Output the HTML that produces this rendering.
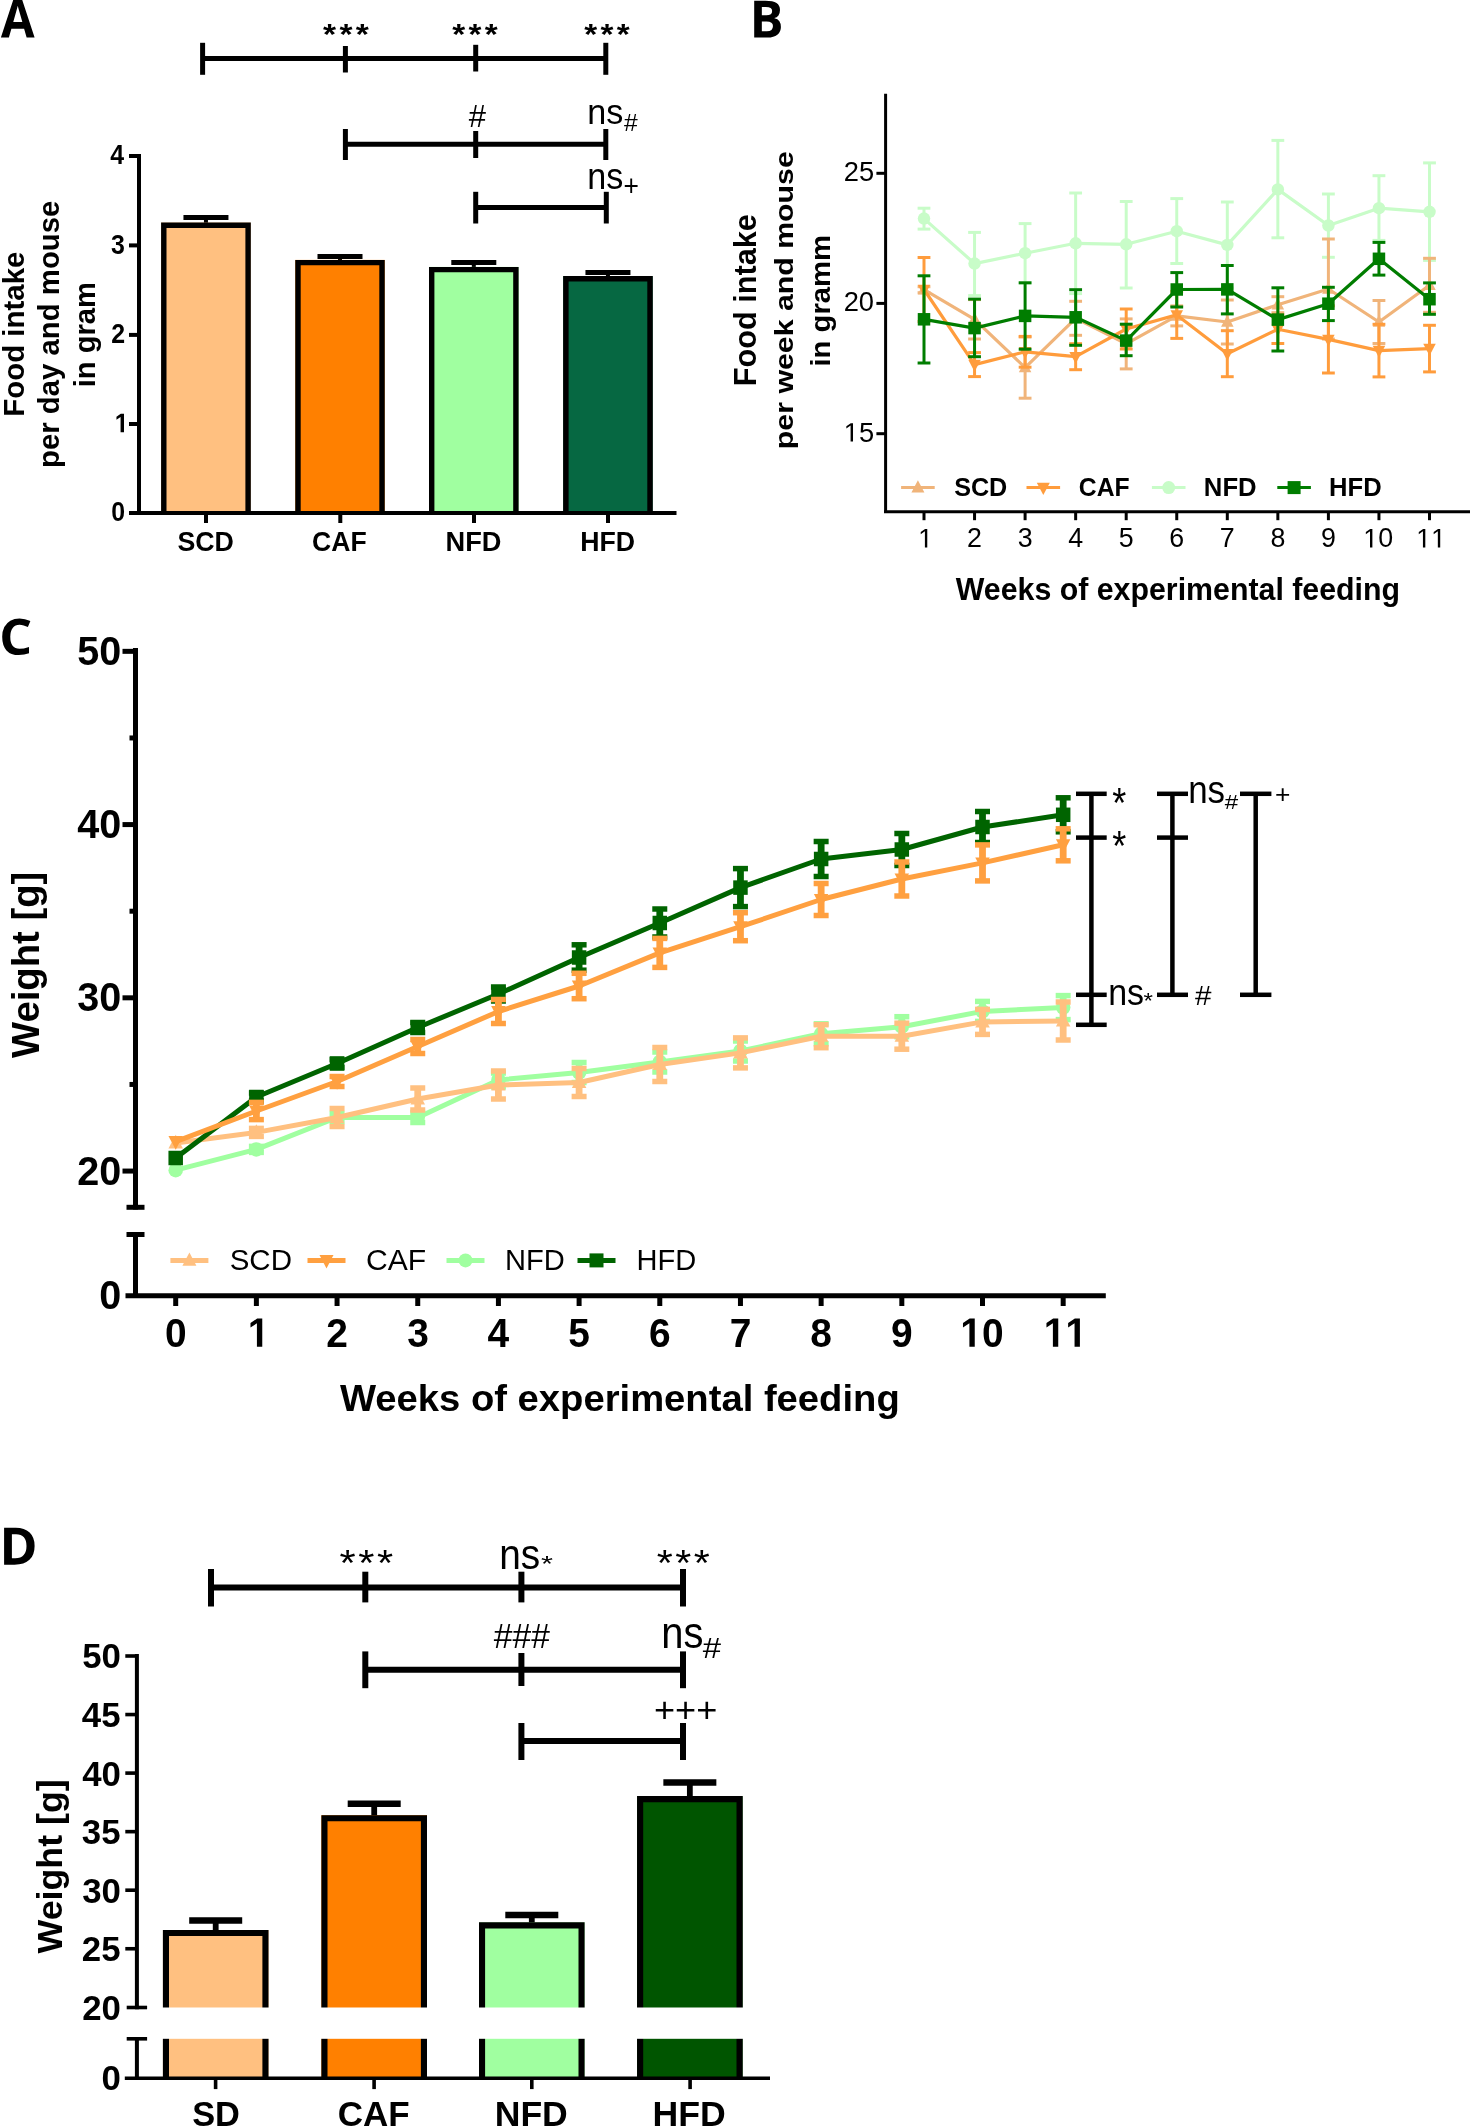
<!DOCTYPE html>
<html><head><meta charset="utf-8"><title>Figure</title><style>
html,body{margin:0;padding:0;background:#fff;overflow:hidden;}
svg{display:block;will-change:transform;}
text{font-family:"Liberation Sans",sans-serif;}
</style></head><body>
<svg width="1470" height="2128" viewBox="0 0 1470 2128">
<rect x="0" y="0" width="1470" height="2128" fill="#fff"/>
<path transform="translate(0.900,37.600) scale(0.023850,-0.025613)" d="M1079 0 973 348H440L334 0H0L516 1468H895L1413 0ZM899 608Q752 1081 733.5 1143.0Q715 1205 707 1241Q674 1113 518 608Z" fill="#000"/>
<line x1="205.95" y1="224.6" x2="205.95" y2="217.5" stroke="#000" stroke-width="4" stroke-linecap="butt"/>
<line x1="183.45" y1="217.5" x2="228.45" y2="217.5" stroke="#000" stroke-width="5" stroke-linecap="butt"/>
<line x1="340" y1="261.9" x2="340" y2="256.5" stroke="#000" stroke-width="4" stroke-linecap="butt"/>
<line x1="317.5" y1="256.5" x2="362.5" y2="256.5" stroke="#000" stroke-width="5" stroke-linecap="butt"/>
<line x1="473.8" y1="268.9" x2="473.8" y2="262.5" stroke="#000" stroke-width="4" stroke-linecap="butt"/>
<line x1="451.3" y1="262.5" x2="496.3" y2="262.5" stroke="#000" stroke-width="5" stroke-linecap="butt"/>
<line x1="607.95" y1="278.1" x2="607.95" y2="272.5" stroke="#000" stroke-width="4" stroke-linecap="butt"/>
<line x1="585.45" y1="272.5" x2="630.45" y2="272.5" stroke="#000" stroke-width="5" stroke-linecap="butt"/>
<rect x="161.1" y="222.6" width="89.7" height="290.4" fill="#FFC080"/>
<path d="M163.8,513 V225.3 H248.1 V513" fill="none" stroke="#000" stroke-width="5.4" stroke-linejoin="miter"/>
<rect x="295.3" y="259.9" width="89.4" height="253.1" fill="#FF8000"/>
<path d="M298,513 V262.6 H382 V513" fill="none" stroke="#000" stroke-width="5.4" stroke-linejoin="miter"/>
<rect x="429" y="266.9" width="89.6" height="246.1" fill="#A0FFA0"/>
<path d="M431.7,513 V269.6 H515.9 V513" fill="none" stroke="#000" stroke-width="5.4" stroke-linejoin="miter"/>
<rect x="563.2" y="276.1" width="89.5" height="236.9" fill="#066842"/>
<path d="M565.9,513 V278.8 H650 V513" fill="none" stroke="#000" stroke-width="5.4" stroke-linejoin="miter"/>
<line x1="139" y1="154" x2="139" y2="515" stroke="#000" stroke-width="4" stroke-linecap="butt"/>
<line x1="129" y1="513" x2="676.5" y2="513" stroke="#000" stroke-width="4" stroke-linecap="butt"/>
<line x1="129" y1="156" x2="139" y2="156" stroke="#000" stroke-width="4" stroke-linecap="butt"/>
<g transform="translate(110.29,164.3) scale(0.9300,1)" fill="#000"><text x="0" y="0" font-size="26.80" font-weight="bold">4</text></g>
<line x1="129" y1="245.4" x2="139" y2="245.4" stroke="#000" stroke-width="4" stroke-linecap="butt"/>
<g transform="translate(111.04,253.7) scale(0.9300,1)" fill="#000"><text x="0" y="0" font-size="26.80" font-weight="bold">3</text></g>
<line x1="129" y1="334.9" x2="139" y2="334.9" stroke="#000" stroke-width="4" stroke-linecap="butt"/>
<g transform="translate(111.16,343.2) scale(0.9300,1)" fill="#000"><text x="0" y="0" font-size="26.80" font-weight="bold">2</text></g>
<line x1="129" y1="424" x2="139" y2="424" stroke="#000" stroke-width="4" stroke-linecap="butt"/>
<g transform="translate(114.76,432.3) scale(0.9300,1)" fill="#000"><path transform="translate(0,0) scale(0.013086,-0.013086)" d="M478,0L478,1170L140,959L140,1180L493,1409L759,1409L759,0Z"/></g>
<line x1="129" y1="513" x2="139" y2="513" stroke="#000" stroke-width="4" stroke-linecap="butt"/>
<g transform="translate(111.16,521.3) scale(0.9300,1)" fill="#000"><text x="0" y="0" font-size="26.80" font-weight="bold">0</text></g>
<line x1="206" y1="513" x2="206" y2="523" stroke="#000" stroke-width="4" stroke-linecap="butt"/>
<line x1="340.3" y1="513" x2="340.3" y2="523" stroke="#000" stroke-width="4" stroke-linecap="butt"/>
<line x1="474" y1="513" x2="474" y2="523" stroke="#000" stroke-width="4" stroke-linecap="butt"/>
<line x1="608" y1="513" x2="608" y2="523" stroke="#000" stroke-width="4" stroke-linecap="butt"/>
<text transform="translate(177.4,551.03) scale(1.0019,1)" font-size="26.71" font-weight="bold" fill="#000">SCD</text>
<text transform="translate(312.04,551.03) scale(0.9945,1)" font-size="26.71" font-weight="bold" fill="#000">CAF</text>
<text transform="translate(445.56,551.3) scale(0.9912,1)" font-size="27.49" font-weight="bold" fill="#000">NFD</text>
<text transform="translate(580.2,551.3) scale(0.9706,1)" font-size="27.49" font-weight="bold" fill="#000">HFD</text>
<line x1="202.6" y1="58.6" x2="605.8" y2="58.6" stroke="#000" stroke-width="5" stroke-linecap="butt"/>
<line x1="202.6" y1="42.8" x2="202.6" y2="74.8" stroke="#000" stroke-width="5" stroke-linecap="butt"/>
<line x1="345.4" y1="46" x2="345.4" y2="72.5" stroke="#000" stroke-width="5" stroke-linecap="butt"/>
<line x1="475.7" y1="44.8" x2="475.7" y2="71.5" stroke="#000" stroke-width="5" stroke-linecap="butt"/>
<line x1="605.8" y1="42.8" x2="605.8" y2="74.8" stroke="#000" stroke-width="5" stroke-linecap="butt"/>
<line x1="345.4" y1="144.2" x2="605.8" y2="144.2" stroke="#000" stroke-width="5" stroke-linecap="butt"/>
<line x1="345.4" y1="129" x2="345.4" y2="160" stroke="#000" stroke-width="5" stroke-linecap="butt"/>
<line x1="475.7" y1="131" x2="475.7" y2="158" stroke="#000" stroke-width="5" stroke-linecap="butt"/>
<line x1="605.8" y1="129" x2="605.8" y2="160" stroke="#000" stroke-width="5" stroke-linecap="butt"/>
<line x1="475.7" y1="207.6" x2="606.3" y2="207.6" stroke="#000" stroke-width="5" stroke-linecap="butt"/>
<line x1="475.7" y1="191.8" x2="475.7" y2="223.5" stroke="#000" stroke-width="5" stroke-linecap="butt"/>
<line x1="606.3" y1="191.8" x2="606.3" y2="223.5" stroke="#000" stroke-width="5" stroke-linecap="butt"/>
<text transform="translate(323.02,43.86) scale(1.1054,1)" font-size="30.34" font-weight="bold" fill="#000">*</text>
<text transform="translate(339.41,43.86) scale(1.1054,1)" font-size="30.34" font-weight="bold" fill="#000">*</text>
<text transform="translate(355.81,43.86) scale(1.1054,1)" font-size="30.34" font-weight="bold" fill="#000">*</text>
<text transform="translate(452.22,43.86) scale(1.0957,1)" font-size="30.34" font-weight="bold" fill="#000">*</text>
<text transform="translate(468.47,43.86) scale(1.0957,1)" font-size="30.34" font-weight="bold" fill="#000">*</text>
<text transform="translate(484.72,43.86) scale(1.0957,1)" font-size="30.34" font-weight="bold" fill="#000">*</text>
<text transform="translate(584.32,43.86) scale(1.0957,1)" font-size="30.34" font-weight="bold" fill="#000">*</text>
<text transform="translate(600.57,43.86) scale(1.0957,1)" font-size="30.34" font-weight="bold" fill="#000">*</text>
<text transform="translate(616.82,43.86) scale(1.0957,1)" font-size="30.34" font-weight="bold" fill="#000">*</text>
<text transform="translate(468.84,126.6) scale(0.9624,1)" font-size="32.26" font-weight="normal" fill="#000">#</text>
<text transform="translate(587.2,124.25) scale(0.9884,1)" font-size="34.52" font-weight="normal" fill="#000">ns</text>
<text transform="translate(623.88,131) scale(1.0237,1)" font-size="24.09" font-weight="normal" fill="#000">#</text>
<text transform="translate(587.2,188.63) scale(0.9341,1)" font-size="36.53" font-weight="normal" fill="#000">ns</text>
<text transform="translate(623.38,195.5) scale(0.9237,1)" font-size="28.57" font-weight="normal" fill="#000">+</text>
<text transform="translate(23.7,416.79) rotate(-90) scale(0.9790,1)" font-size="30.07" font-weight="bold" fill="#000">Food intake</text>
<text transform="translate(59.21,467.91) rotate(-90) scale(1.0171,1)" font-size="28.85" font-weight="bold" fill="#000">per day and mouse</text>
<text transform="translate(95.08,387.24) rotate(-90) scale(0.9791,1)" font-size="29.76" font-weight="bold" fill="#000">in gram</text>
<path transform="translate(749.668,37.600) scale(0.024631,-0.025239)" d="M184 1462H639Q950 1462 1090.5 1373.5Q1231 1285 1231 1092Q1231 961 1169.5 877.0Q1108 793 1006 776V766Q1145 735 1206.5 650.0Q1268 565 1268 424Q1268 224 1123.5 112.0Q979 0 731 0H184ZM494 883H674Q800 883 856.5 922.0Q913 961 913 1051Q913 1135 851.5 1171.5Q790 1208 657 1208H494ZM494 637V256H696Q824 256 885.0 305.0Q946 354 946 455Q946 637 686 637Z" fill="#000"/>
<defs><clipPath id="clipB"><rect x="886" y="90" width="550" height="420"/></clipPath></defs>
<g clip-path="url(#clipB)">
<line x1="924" y1="208.2" x2="924" y2="229.1" stroke="#C8FCC8" stroke-width="3" stroke-linecap="butt"/>
<line x1="917.6" y1="208.2" x2="930.4" y2="208.2" stroke="#C8FCC8" stroke-width="3" stroke-linecap="butt"/>
<line x1="917.6" y1="229.1" x2="930.4" y2="229.1" stroke="#C8FCC8" stroke-width="3" stroke-linecap="butt"/>
<line x1="974.55" y1="232.4" x2="974.55" y2="295.6" stroke="#C8FCC8" stroke-width="3" stroke-linecap="butt"/>
<line x1="968.15" y1="232.4" x2="980.95" y2="232.4" stroke="#C8FCC8" stroke-width="3" stroke-linecap="butt"/>
<line x1="968.15" y1="295.6" x2="980.95" y2="295.6" stroke="#C8FCC8" stroke-width="3" stroke-linecap="butt"/>
<line x1="1025.1" y1="223.6" x2="1025.1" y2="283" stroke="#C8FCC8" stroke-width="3" stroke-linecap="butt"/>
<line x1="1018.7" y1="223.6" x2="1031.5" y2="223.6" stroke="#C8FCC8" stroke-width="3" stroke-linecap="butt"/>
<line x1="1018.7" y1="283" x2="1031.5" y2="283" stroke="#C8FCC8" stroke-width="3" stroke-linecap="butt"/>
<line x1="1075.65" y1="193" x2="1075.65" y2="293.6" stroke="#C8FCC8" stroke-width="3" stroke-linecap="butt"/>
<line x1="1069.25" y1="193" x2="1082.05" y2="193" stroke="#C8FCC8" stroke-width="3" stroke-linecap="butt"/>
<line x1="1069.25" y1="293.6" x2="1082.05" y2="293.6" stroke="#C8FCC8" stroke-width="3" stroke-linecap="butt"/>
<line x1="1126.2" y1="201.5" x2="1126.2" y2="288" stroke="#C8FCC8" stroke-width="3" stroke-linecap="butt"/>
<line x1="1119.8" y1="201.5" x2="1132.6" y2="201.5" stroke="#C8FCC8" stroke-width="3" stroke-linecap="butt"/>
<line x1="1119.8" y1="288" x2="1132.6" y2="288" stroke="#C8FCC8" stroke-width="3" stroke-linecap="butt"/>
<line x1="1176.75" y1="198.6" x2="1176.75" y2="263.5" stroke="#C8FCC8" stroke-width="3" stroke-linecap="butt"/>
<line x1="1170.35" y1="198.6" x2="1183.15" y2="198.6" stroke="#C8FCC8" stroke-width="3" stroke-linecap="butt"/>
<line x1="1170.35" y1="263.5" x2="1183.15" y2="263.5" stroke="#C8FCC8" stroke-width="3" stroke-linecap="butt"/>
<line x1="1227.3" y1="202" x2="1227.3" y2="288" stroke="#C8FCC8" stroke-width="3" stroke-linecap="butt"/>
<line x1="1220.9" y1="202" x2="1233.7" y2="202" stroke="#C8FCC8" stroke-width="3" stroke-linecap="butt"/>
<line x1="1220.9" y1="288" x2="1233.7" y2="288" stroke="#C8FCC8" stroke-width="3" stroke-linecap="butt"/>
<line x1="1277.85" y1="140.4" x2="1277.85" y2="237.8" stroke="#C8FCC8" stroke-width="3" stroke-linecap="butt"/>
<line x1="1271.45" y1="140.4" x2="1284.25" y2="140.4" stroke="#C8FCC8" stroke-width="3" stroke-linecap="butt"/>
<line x1="1271.45" y1="237.8" x2="1284.25" y2="237.8" stroke="#C8FCC8" stroke-width="3" stroke-linecap="butt"/>
<line x1="1328.4" y1="194" x2="1328.4" y2="257.3" stroke="#C8FCC8" stroke-width="3" stroke-linecap="butt"/>
<line x1="1322" y1="194" x2="1334.8" y2="194" stroke="#C8FCC8" stroke-width="3" stroke-linecap="butt"/>
<line x1="1322" y1="257.3" x2="1334.8" y2="257.3" stroke="#C8FCC8" stroke-width="3" stroke-linecap="butt"/>
<line x1="1378.95" y1="175.7" x2="1378.95" y2="240.4" stroke="#C8FCC8" stroke-width="3" stroke-linecap="butt"/>
<line x1="1372.55" y1="175.7" x2="1385.35" y2="175.7" stroke="#C8FCC8" stroke-width="3" stroke-linecap="butt"/>
<line x1="1372.55" y1="240.4" x2="1385.35" y2="240.4" stroke="#C8FCC8" stroke-width="3" stroke-linecap="butt"/>
<line x1="1429.5" y1="162.9" x2="1429.5" y2="260.4" stroke="#C8FCC8" stroke-width="3" stroke-linecap="butt"/>
<line x1="1423.1" y1="162.9" x2="1435.9" y2="162.9" stroke="#C8FCC8" stroke-width="3" stroke-linecap="butt"/>
<line x1="1423.1" y1="260.4" x2="1435.9" y2="260.4" stroke="#C8FCC8" stroke-width="3" stroke-linecap="butt"/>
<polyline points="924,218.6 974.55,263.6 1025.1,253.2 1075.65,243.3 1126.2,244.3 1176.75,231.2 1227.3,244.9 1277.85,189.4 1328.4,225.5 1378.95,208.2 1429.5,211.8" fill="none" stroke="#C8FCC8" stroke-width="3.2" stroke-linejoin="round"/>
<circle cx="924" cy="218.6" r="6.25" fill="#C8FCC8"/>
<circle cx="974.55" cy="263.6" r="6.25" fill="#C8FCC8"/>
<circle cx="1025.1" cy="253.2" r="6.25" fill="#C8FCC8"/>
<circle cx="1075.65" cy="243.3" r="6.25" fill="#C8FCC8"/>
<circle cx="1126.2" cy="244.3" r="6.25" fill="#C8FCC8"/>
<circle cx="1176.75" cy="231.2" r="6.25" fill="#C8FCC8"/>
<circle cx="1227.3" cy="244.9" r="6.25" fill="#C8FCC8"/>
<circle cx="1277.85" cy="189.4" r="6.25" fill="#C8FCC8"/>
<circle cx="1328.4" cy="225.5" r="6.25" fill="#C8FCC8"/>
<circle cx="1378.95" cy="208.2" r="6.25" fill="#C8FCC8"/>
<circle cx="1429.5" cy="211.8" r="6.25" fill="#C8FCC8"/>
<line x1="924" y1="286.7" x2="924" y2="292.7" stroke="#F0B47A" stroke-width="3" stroke-linecap="butt"/>
<line x1="917.6" y1="286.7" x2="930.4" y2="286.7" stroke="#F0B47A" stroke-width="3" stroke-linecap="butt"/>
<line x1="917.6" y1="292.7" x2="930.4" y2="292.7" stroke="#F0B47A" stroke-width="3" stroke-linecap="butt"/>
<line x1="974.55" y1="299.6" x2="974.55" y2="339" stroke="#F0B47A" stroke-width="3" stroke-linecap="butt"/>
<line x1="968.15" y1="299.6" x2="980.95" y2="299.6" stroke="#F0B47A" stroke-width="3" stroke-linecap="butt"/>
<line x1="968.15" y1="339" x2="980.95" y2="339" stroke="#F0B47A" stroke-width="3" stroke-linecap="butt"/>
<line x1="1025.1" y1="337" x2="1025.1" y2="398.2" stroke="#F0B47A" stroke-width="3" stroke-linecap="butt"/>
<line x1="1018.7" y1="337" x2="1031.5" y2="337" stroke="#F0B47A" stroke-width="3" stroke-linecap="butt"/>
<line x1="1018.7" y1="398.2" x2="1031.5" y2="398.2" stroke="#F0B47A" stroke-width="3" stroke-linecap="butt"/>
<line x1="1075.65" y1="301.3" x2="1075.65" y2="335.3" stroke="#F0B47A" stroke-width="3" stroke-linecap="butt"/>
<line x1="1069.25" y1="301.3" x2="1082.05" y2="301.3" stroke="#F0B47A" stroke-width="3" stroke-linecap="butt"/>
<line x1="1069.25" y1="335.3" x2="1082.05" y2="335.3" stroke="#F0B47A" stroke-width="3" stroke-linecap="butt"/>
<line x1="1126.2" y1="318.9" x2="1126.2" y2="368.9" stroke="#F0B47A" stroke-width="3" stroke-linecap="butt"/>
<line x1="1119.8" y1="318.9" x2="1132.6" y2="318.9" stroke="#F0B47A" stroke-width="3" stroke-linecap="butt"/>
<line x1="1119.8" y1="368.9" x2="1132.6" y2="368.9" stroke="#F0B47A" stroke-width="3" stroke-linecap="butt"/>
<line x1="1176.75" y1="305.9" x2="1176.75" y2="325.9" stroke="#F0B47A" stroke-width="3" stroke-linecap="butt"/>
<line x1="1170.35" y1="305.9" x2="1183.15" y2="305.9" stroke="#F0B47A" stroke-width="3" stroke-linecap="butt"/>
<line x1="1170.35" y1="325.9" x2="1183.15" y2="325.9" stroke="#F0B47A" stroke-width="3" stroke-linecap="butt"/>
<line x1="1227.3" y1="300" x2="1227.3" y2="344" stroke="#F0B47A" stroke-width="3" stroke-linecap="butt"/>
<line x1="1220.9" y1="300" x2="1233.7" y2="300" stroke="#F0B47A" stroke-width="3" stroke-linecap="butt"/>
<line x1="1220.9" y1="344" x2="1233.7" y2="344" stroke="#F0B47A" stroke-width="3" stroke-linecap="butt"/>
<line x1="1277.85" y1="296.7" x2="1277.85" y2="312.7" stroke="#F0B47A" stroke-width="3" stroke-linecap="butt"/>
<line x1="1271.45" y1="296.7" x2="1284.25" y2="296.7" stroke="#F0B47A" stroke-width="3" stroke-linecap="butt"/>
<line x1="1271.45" y1="312.7" x2="1284.25" y2="312.7" stroke="#F0B47A" stroke-width="3" stroke-linecap="butt"/>
<line x1="1328.4" y1="239" x2="1328.4" y2="339" stroke="#F0B47A" stroke-width="3" stroke-linecap="butt"/>
<line x1="1322" y1="239" x2="1334.8" y2="239" stroke="#F0B47A" stroke-width="3" stroke-linecap="butt"/>
<line x1="1322" y1="339" x2="1334.8" y2="339" stroke="#F0B47A" stroke-width="3" stroke-linecap="butt"/>
<line x1="1378.95" y1="300.5" x2="1378.95" y2="343.5" stroke="#F0B47A" stroke-width="3" stroke-linecap="butt"/>
<line x1="1372.55" y1="300.5" x2="1385.35" y2="300.5" stroke="#F0B47A" stroke-width="3" stroke-linecap="butt"/>
<line x1="1372.55" y1="343.5" x2="1385.35" y2="343.5" stroke="#F0B47A" stroke-width="3" stroke-linecap="butt"/>
<line x1="1429.5" y1="258.3" x2="1429.5" y2="312.3" stroke="#F0B47A" stroke-width="3" stroke-linecap="butt"/>
<line x1="1423.1" y1="258.3" x2="1435.9" y2="258.3" stroke="#F0B47A" stroke-width="3" stroke-linecap="butt"/>
<line x1="1423.1" y1="312.3" x2="1435.9" y2="312.3" stroke="#F0B47A" stroke-width="3" stroke-linecap="butt"/>
<polyline points="924,289.7 974.55,319.3 1025.1,367.6 1075.65,318.3 1126.2,343.9 1176.75,315.9 1227.3,322 1277.85,304.7 1328.4,289 1378.95,322 1429.5,285.3" fill="none" stroke="#F0B47A" stroke-width="3.2" stroke-linejoin="round"/>
<polygon points="924,282.57 930.25,294.45 917.75,294.45" fill="#F0B47A"/>
<polygon points="974.55,312.18 980.8,324.05 968.3,324.05" fill="#F0B47A"/>
<polygon points="1025.1,360.48 1031.35,372.35 1018.85,372.35" fill="#F0B47A"/>
<polygon points="1075.65,311.18 1081.9,323.05 1069.4,323.05" fill="#F0B47A"/>
<polygon points="1126.2,336.77 1132.45,348.65 1119.95,348.65" fill="#F0B47A"/>
<polygon points="1176.75,308.77 1183,320.65 1170.5,320.65" fill="#F0B47A"/>
<polygon points="1227.3,314.88 1233.55,326.75 1221.05,326.75" fill="#F0B47A"/>
<polygon points="1277.85,297.57 1284.1,309.45 1271.6,309.45" fill="#F0B47A"/>
<polygon points="1328.4,281.88 1334.65,293.75 1322.15,293.75" fill="#F0B47A"/>
<polygon points="1378.95,314.88 1385.2,326.75 1372.7,326.75" fill="#F0B47A"/>
<polygon points="1429.5,278.18 1435.75,290.05 1423.25,290.05" fill="#F0B47A"/>
<line x1="924" y1="257.5" x2="924" y2="321.5" stroke="#FF9C3C" stroke-width="3" stroke-linecap="butt"/>
<line x1="917.6" y1="257.5" x2="930.4" y2="257.5" stroke="#FF9C3C" stroke-width="3" stroke-linecap="butt"/>
<line x1="917.6" y1="321.5" x2="930.4" y2="321.5" stroke="#FF9C3C" stroke-width="3" stroke-linecap="butt"/>
<line x1="974.55" y1="352.6" x2="974.55" y2="376.6" stroke="#FF9C3C" stroke-width="3" stroke-linecap="butt"/>
<line x1="968.15" y1="352.6" x2="980.95" y2="352.6" stroke="#FF9C3C" stroke-width="3" stroke-linecap="butt"/>
<line x1="968.15" y1="376.6" x2="980.95" y2="376.6" stroke="#FF9C3C" stroke-width="3" stroke-linecap="butt"/>
<line x1="1025.1" y1="336.4" x2="1025.1" y2="367.2" stroke="#FF9C3C" stroke-width="3" stroke-linecap="butt"/>
<line x1="1018.7" y1="336.4" x2="1031.5" y2="336.4" stroke="#FF9C3C" stroke-width="3" stroke-linecap="butt"/>
<line x1="1018.7" y1="367.2" x2="1031.5" y2="367.2" stroke="#FF9C3C" stroke-width="3" stroke-linecap="butt"/>
<line x1="1075.65" y1="343.7" x2="1075.65" y2="369.7" stroke="#FF9C3C" stroke-width="3" stroke-linecap="butt"/>
<line x1="1069.25" y1="343.7" x2="1082.05" y2="343.7" stroke="#FF9C3C" stroke-width="3" stroke-linecap="butt"/>
<line x1="1069.25" y1="369.7" x2="1082.05" y2="369.7" stroke="#FF9C3C" stroke-width="3" stroke-linecap="butt"/>
<line x1="1126.2" y1="309" x2="1126.2" y2="349" stroke="#FF9C3C" stroke-width="3" stroke-linecap="butt"/>
<line x1="1119.8" y1="309" x2="1132.6" y2="309" stroke="#FF9C3C" stroke-width="3" stroke-linecap="butt"/>
<line x1="1119.8" y1="349" x2="1132.6" y2="349" stroke="#FF9C3C" stroke-width="3" stroke-linecap="butt"/>
<line x1="1176.75" y1="291.4" x2="1176.75" y2="338.4" stroke="#FF9C3C" stroke-width="3" stroke-linecap="butt"/>
<line x1="1170.35" y1="291.4" x2="1183.15" y2="291.4" stroke="#FF9C3C" stroke-width="3" stroke-linecap="butt"/>
<line x1="1170.35" y1="338.4" x2="1183.15" y2="338.4" stroke="#FF9C3C" stroke-width="3" stroke-linecap="butt"/>
<line x1="1227.3" y1="330.7" x2="1227.3" y2="376.7" stroke="#FF9C3C" stroke-width="3" stroke-linecap="butt"/>
<line x1="1220.9" y1="330.7" x2="1233.7" y2="330.7" stroke="#FF9C3C" stroke-width="3" stroke-linecap="butt"/>
<line x1="1220.9" y1="376.7" x2="1233.7" y2="376.7" stroke="#FF9C3C" stroke-width="3" stroke-linecap="butt"/>
<line x1="1277.85" y1="314.9" x2="1277.85" y2="343.5" stroke="#FF9C3C" stroke-width="3" stroke-linecap="butt"/>
<line x1="1271.45" y1="314.9" x2="1284.25" y2="314.9" stroke="#FF9C3C" stroke-width="3" stroke-linecap="butt"/>
<line x1="1271.45" y1="343.5" x2="1284.25" y2="343.5" stroke="#FF9C3C" stroke-width="3" stroke-linecap="butt"/>
<line x1="1328.4" y1="305.8" x2="1328.4" y2="373" stroke="#FF9C3C" stroke-width="3" stroke-linecap="butt"/>
<line x1="1322" y1="305.8" x2="1334.8" y2="305.8" stroke="#FF9C3C" stroke-width="3" stroke-linecap="butt"/>
<line x1="1322" y1="373" x2="1334.8" y2="373" stroke="#FF9C3C" stroke-width="3" stroke-linecap="butt"/>
<line x1="1378.95" y1="324.3" x2="1378.95" y2="376.9" stroke="#FF9C3C" stroke-width="3" stroke-linecap="butt"/>
<line x1="1372.55" y1="324.3" x2="1385.35" y2="324.3" stroke="#FF9C3C" stroke-width="3" stroke-linecap="butt"/>
<line x1="1372.55" y1="376.9" x2="1385.35" y2="376.9" stroke="#FF9C3C" stroke-width="3" stroke-linecap="butt"/>
<line x1="1429.5" y1="325.3" x2="1429.5" y2="371.9" stroke="#FF9C3C" stroke-width="3" stroke-linecap="butt"/>
<line x1="1423.1" y1="325.3" x2="1435.9" y2="325.3" stroke="#FF9C3C" stroke-width="3" stroke-linecap="butt"/>
<line x1="1423.1" y1="371.9" x2="1435.9" y2="371.9" stroke="#FF9C3C" stroke-width="3" stroke-linecap="butt"/>
<polyline points="924,289.5 974.55,364.6 1025.1,351.8 1075.65,356.7 1126.2,329 1176.75,314.9 1227.3,353.7 1277.85,329.2 1328.4,339.4 1378.95,350.6 1429.5,348.6" fill="none" stroke="#FF9C3C" stroke-width="3.2" stroke-linejoin="round"/>
<polygon points="924,296.62 930.25,284.75 917.75,284.75" fill="#FF9C3C"/>
<polygon points="974.55,371.73 980.8,359.85 968.3,359.85" fill="#FF9C3C"/>
<polygon points="1025.1,358.93 1031.35,347.05 1018.85,347.05" fill="#FF9C3C"/>
<polygon points="1075.65,363.82 1081.9,351.95 1069.4,351.95" fill="#FF9C3C"/>
<polygon points="1126.2,336.12 1132.45,324.25 1119.95,324.25" fill="#FF9C3C"/>
<polygon points="1176.75,322.02 1183,310.15 1170.5,310.15" fill="#FF9C3C"/>
<polygon points="1227.3,360.82 1233.55,348.95 1221.05,348.95" fill="#FF9C3C"/>
<polygon points="1277.85,336.32 1284.1,324.45 1271.6,324.45" fill="#FF9C3C"/>
<polygon points="1328.4,346.52 1334.65,334.65 1322.15,334.65" fill="#FF9C3C"/>
<polygon points="1378.95,357.73 1385.2,345.85 1372.7,345.85" fill="#FF9C3C"/>
<polygon points="1429.5,355.73 1435.75,343.85 1423.25,343.85" fill="#FF9C3C"/>
<line x1="924" y1="275.8" x2="924" y2="363" stroke="#007D00" stroke-width="3" stroke-linecap="butt"/>
<line x1="917.6" y1="275.8" x2="930.4" y2="275.8" stroke="#007D00" stroke-width="3" stroke-linecap="butt"/>
<line x1="917.6" y1="363" x2="930.4" y2="363" stroke="#007D00" stroke-width="3" stroke-linecap="butt"/>
<line x1="974.55" y1="299.1" x2="974.55" y2="356.7" stroke="#007D00" stroke-width="3" stroke-linecap="butt"/>
<line x1="968.15" y1="299.1" x2="980.95" y2="299.1" stroke="#007D00" stroke-width="3" stroke-linecap="butt"/>
<line x1="968.15" y1="356.7" x2="980.95" y2="356.7" stroke="#007D00" stroke-width="3" stroke-linecap="butt"/>
<line x1="1025.1" y1="282.8" x2="1025.1" y2="349.2" stroke="#007D00" stroke-width="3" stroke-linecap="butt"/>
<line x1="1018.7" y1="282.8" x2="1031.5" y2="282.8" stroke="#007D00" stroke-width="3" stroke-linecap="butt"/>
<line x1="1018.7" y1="349.2" x2="1031.5" y2="349.2" stroke="#007D00" stroke-width="3" stroke-linecap="butt"/>
<line x1="1075.65" y1="289.7" x2="1075.65" y2="345.3" stroke="#007D00" stroke-width="3" stroke-linecap="butt"/>
<line x1="1069.25" y1="289.7" x2="1082.05" y2="289.7" stroke="#007D00" stroke-width="3" stroke-linecap="butt"/>
<line x1="1069.25" y1="345.3" x2="1082.05" y2="345.3" stroke="#007D00" stroke-width="3" stroke-linecap="butt"/>
<line x1="1126.2" y1="324.2" x2="1126.2" y2="355.7" stroke="#007D00" stroke-width="3" stroke-linecap="butt"/>
<line x1="1119.8" y1="324.2" x2="1132.6" y2="324.2" stroke="#007D00" stroke-width="3" stroke-linecap="butt"/>
<line x1="1119.8" y1="355.7" x2="1132.6" y2="355.7" stroke="#007D00" stroke-width="3" stroke-linecap="butt"/>
<line x1="1176.75" y1="272.6" x2="1176.75" y2="307" stroke="#007D00" stroke-width="3" stroke-linecap="butt"/>
<line x1="1170.35" y1="272.6" x2="1183.15" y2="272.6" stroke="#007D00" stroke-width="3" stroke-linecap="butt"/>
<line x1="1170.35" y1="307" x2="1183.15" y2="307" stroke="#007D00" stroke-width="3" stroke-linecap="butt"/>
<line x1="1227.3" y1="265.5" x2="1227.3" y2="313.9" stroke="#007D00" stroke-width="3" stroke-linecap="butt"/>
<line x1="1220.9" y1="265.5" x2="1233.7" y2="265.5" stroke="#007D00" stroke-width="3" stroke-linecap="butt"/>
<line x1="1220.9" y1="313.9" x2="1233.7" y2="313.9" stroke="#007D00" stroke-width="3" stroke-linecap="butt"/>
<line x1="1277.85" y1="287.8" x2="1277.85" y2="351" stroke="#007D00" stroke-width="3" stroke-linecap="butt"/>
<line x1="1271.45" y1="287.8" x2="1284.25" y2="287.8" stroke="#007D00" stroke-width="3" stroke-linecap="butt"/>
<line x1="1271.45" y1="351" x2="1284.25" y2="351" stroke="#007D00" stroke-width="3" stroke-linecap="butt"/>
<line x1="1328.4" y1="287.3" x2="1328.4" y2="320.6" stroke="#007D00" stroke-width="3" stroke-linecap="butt"/>
<line x1="1322" y1="287.3" x2="1334.8" y2="287.3" stroke="#007D00" stroke-width="3" stroke-linecap="butt"/>
<line x1="1322" y1="320.6" x2="1334.8" y2="320.6" stroke="#007D00" stroke-width="3" stroke-linecap="butt"/>
<line x1="1378.95" y1="242.4" x2="1378.95" y2="275.1" stroke="#007D00" stroke-width="3" stroke-linecap="butt"/>
<line x1="1372.55" y1="242.4" x2="1385.35" y2="242.4" stroke="#007D00" stroke-width="3" stroke-linecap="butt"/>
<line x1="1372.55" y1="275.1" x2="1385.35" y2="275.1" stroke="#007D00" stroke-width="3" stroke-linecap="butt"/>
<line x1="1429.5" y1="282.9" x2="1429.5" y2="314.3" stroke="#007D00" stroke-width="3" stroke-linecap="butt"/>
<line x1="1423.1" y1="282.9" x2="1435.9" y2="282.9" stroke="#007D00" stroke-width="3" stroke-linecap="butt"/>
<line x1="1423.1" y1="314.3" x2="1435.9" y2="314.3" stroke="#007D00" stroke-width="3" stroke-linecap="butt"/>
<polyline points="924,319.3 974.55,328.1 1025.1,315.9 1075.65,317.3 1126.2,340.6 1176.75,289.5 1227.3,289.4 1277.85,319.6 1328.4,303.7 1378.95,258.8 1429.5,299.2" fill="none" stroke="#007D00" stroke-width="3.2" stroke-linejoin="round"/>
<rect x="917.75" y="313.05" width="12.5" height="12.5" fill="#007D00"/>
<rect x="968.3" y="321.85" width="12.5" height="12.5" fill="#007D00"/>
<rect x="1018.85" y="309.65" width="12.5" height="12.5" fill="#007D00"/>
<rect x="1069.4" y="311.05" width="12.5" height="12.5" fill="#007D00"/>
<rect x="1119.95" y="334.35" width="12.5" height="12.5" fill="#007D00"/>
<rect x="1170.5" y="283.25" width="12.5" height="12.5" fill="#007D00"/>
<rect x="1221.05" y="283.15" width="12.5" height="12.5" fill="#007D00"/>
<rect x="1271.6" y="313.35" width="12.5" height="12.5" fill="#007D00"/>
<rect x="1322.15" y="297.45" width="12.5" height="12.5" fill="#007D00"/>
<rect x="1372.7" y="252.55" width="12.5" height="12.5" fill="#007D00"/>
<rect x="1423.25" y="292.95" width="12.5" height="12.5" fill="#007D00"/>
</g>
<line x1="885.6" y1="93.8" x2="885.6" y2="513" stroke="#000" stroke-width="3" stroke-linecap="butt"/>
<line x1="884" y1="511.8" x2="1470" y2="511.8" stroke="#000" stroke-width="3" stroke-linecap="butt"/>
<line x1="876.4" y1="173.3" x2="885.6" y2="173.3" stroke="#000" stroke-width="3" stroke-linecap="butt"/>
<g transform="translate(843.72,181.2) scale(1.0200,1)" fill="#000"><text x="0" y="0" font-size="26.80" font-weight="normal">2</text><text x="14.9" y="0" font-size="26.80" font-weight="normal">5</text></g>
<line x1="876.4" y1="303.4" x2="885.6" y2="303.4" stroke="#000" stroke-width="3" stroke-linecap="butt"/>
<g transform="translate(843.65,311.3) scale(1.0200,1)" fill="#000"><text x="0" y="0" font-size="26.80" font-weight="normal">2</text><text x="14.9" y="0" font-size="26.80" font-weight="normal">0</text></g>
<line x1="876.4" y1="433.7" x2="885.6" y2="433.7" stroke="#000" stroke-width="3" stroke-linecap="butt"/>
<g transform="translate(843.72,441.6) scale(1.0200,1)" fill="#000"><path transform="translate(0,0) scale(0.013086,-0.013086)" d="M515,0L515,1237L197,1010L197,1180L530,1409L696,1409L696,0Z"/><text x="14.9" y="0" font-size="26.80" font-weight="normal">5</text></g>
<line x1="924" y1="511.8" x2="924" y2="520.2" stroke="#000" stroke-width="3" stroke-linecap="butt"/>
<g transform="translate(918.16,547.4) scale(1.0000,1)" fill="#000"><path transform="translate(0,0) scale(0.013086,-0.013086)" d="M515,0L515,1237L197,1010L197,1180L530,1409L696,1409L696,0Z"/></g>
<line x1="974.55" y1="511.8" x2="974.55" y2="520.2" stroke="#000" stroke-width="3" stroke-linecap="butt"/>
<g transform="translate(967.11,547.4) scale(1.0000,1)" fill="#000"><text x="0" y="0" font-size="26.80" font-weight="normal">2</text></g>
<line x1="1025.1" y1="511.8" x2="1025.1" y2="520.2" stroke="#000" stroke-width="3" stroke-linecap="butt"/>
<g transform="translate(1017.73,547.4) scale(1.0000,1)" fill="#000"><text x="0" y="0" font-size="26.80" font-weight="normal">3</text></g>
<line x1="1075.65" y1="511.8" x2="1075.65" y2="520.2" stroke="#000" stroke-width="3" stroke-linecap="butt"/>
<g transform="translate(1068.28,547.4) scale(1.0000,1)" fill="#000"><text x="0" y="0" font-size="26.80" font-weight="normal">4</text></g>
<line x1="1126.2" y1="511.8" x2="1126.2" y2="520.2" stroke="#000" stroke-width="3" stroke-linecap="butt"/>
<g transform="translate(1118.76,547.4) scale(1.0000,1)" fill="#000"><text x="0" y="0" font-size="26.80" font-weight="normal">5</text></g>
<line x1="1176.75" y1="511.8" x2="1176.75" y2="520.2" stroke="#000" stroke-width="3" stroke-linecap="butt"/>
<g transform="translate(1169.21,547.4) scale(1.0000,1)" fill="#000"><text x="0" y="0" font-size="26.80" font-weight="normal">6</text></g>
<line x1="1227.3" y1="511.8" x2="1227.3" y2="520.2" stroke="#000" stroke-width="3" stroke-linecap="butt"/>
<g transform="translate(1219.83,547.4) scale(1.0000,1)" fill="#000"><text x="0" y="0" font-size="26.80" font-weight="normal">7</text></g>
<line x1="1277.85" y1="511.8" x2="1277.85" y2="520.2" stroke="#000" stroke-width="3" stroke-linecap="butt"/>
<g transform="translate(1270.41,547.4) scale(1.0000,1)" fill="#000"><text x="0" y="0" font-size="26.80" font-weight="normal">8</text></g>
<line x1="1328.4" y1="511.8" x2="1328.4" y2="520.2" stroke="#000" stroke-width="3" stroke-linecap="butt"/>
<g transform="translate(1320.93,547.4) scale(1.0000,1)" fill="#000"><text x="0" y="0" font-size="26.80" font-weight="normal">9</text></g>
<line x1="1378.95" y1="511.8" x2="1378.95" y2="520.2" stroke="#000" stroke-width="3" stroke-linecap="butt"/>
<g transform="translate(1363.27,547.4) scale(1.0000,1)" fill="#000"><path transform="translate(0,0) scale(0.013086,-0.013086)" d="M515,0L515,1237L197,1010L197,1180L530,1409L696,1409L696,0Z"/><text x="14.9" y="0" font-size="26.80" font-weight="normal">0</text></g>
<line x1="1429.5" y1="511.8" x2="1429.5" y2="520.2" stroke="#000" stroke-width="3" stroke-linecap="butt"/>
<g transform="translate(1416.2,547.4) scale(1.0000,1)" fill="#000"><path transform="translate(0,0) scale(0.013086,-0.013086)" d="M515,0L515,1237L197,1010L197,1180L530,1409L696,1409L696,0Z"/><path transform="translate(14.9,0) scale(0.013086,-0.013086)" d="M515,0L515,1237L197,1010L197,1180L530,1409L696,1409L696,0Z"/></g>
<text transform="translate(955.72,599.92) scale(0.9947,1)" font-size="30.51" font-weight="bold" fill="#000">Weeks of experimental feeding</text>
<line x1="901.1" y1="487.6" x2="934.7" y2="487.6" stroke="#F0B47A" stroke-width="3" stroke-linecap="butt"/>
<polygon points="917.9,480.19 924.4,492.54 911.4,492.54" fill="#F0B47A"/>
<text transform="translate(954.14,495.85) scale(1.0015,1)" font-size="25.16" font-weight="bold" fill="#000">SCD</text>
<line x1="1026.5" y1="487.6" x2="1060.1" y2="487.6" stroke="#FF9C3C" stroke-width="3" stroke-linecap="butt"/>
<polygon points="1043.3,495.01 1049.8,482.66 1036.8,482.66" fill="#FF9C3C"/>
<text transform="translate(1078.81,495.85) scale(0.9836,1)" font-size="25.16" font-weight="bold" fill="#000">CAF</text>
<line x1="1151.9" y1="487.6" x2="1185.5" y2="487.6" stroke="#C8FCC8" stroke-width="3" stroke-linecap="butt"/>
<circle cx="1168.7" cy="487.6" r="6.5" fill="#C8FCC8"/>
<text transform="translate(1203.86,496.1) scale(0.9929,1)" font-size="25.89" font-weight="bold" fill="#000">NFD</text>
<line x1="1277.3" y1="487.6" x2="1310.9" y2="487.6" stroke="#007D00" stroke-width="3" stroke-linecap="butt"/>
<rect x="1287.6" y="481.1" width="13" height="13" fill="#007D00"/>
<text transform="translate(1329.07,496.1) scale(0.9889,1)" font-size="25.89" font-weight="bold" fill="#000">HFD</text>
<text transform="translate(755.99,386.27) rotate(-90) scale(1.0031,1)" font-size="30.61" font-weight="bold" fill="#000">Food intake</text>
<text transform="translate(793.35,449.17) rotate(-90) scale(1.1975,1)" font-size="25.31" font-weight="bold" fill="#000">per week and mouse</text>
<text transform="translate(829.57,366.55) rotate(-90) scale(1.0837,1)" font-size="26.99" font-weight="bold" fill="#000">in gramm</text>
<path transform="translate(-0.812,654.612) scale(0.025314,-0.024418)" d="M805 1225Q630 1225 534.0 1093.5Q438 962 438 727Q438 238 805 238Q959 238 1178 315V55Q998 -20 776 -20Q457 -20 288.0 173.5Q119 367 119 729Q119 957 202.0 1128.5Q285 1300 440.5 1391.5Q596 1483 805 1483Q1018 1483 1233 1380L1133 1128Q1051 1167 968.0 1196.0Q885 1225 805 1225Z" fill="#000"/>
<line x1="256.38" y1="1146.4" x2="256.38" y2="1152.4" stroke="#A0FFA0" stroke-width="6.8" stroke-linecap="butt"/>
<line x1="248.88" y1="1146.4" x2="263.88" y2="1146.4" stroke="#A0FFA0" stroke-width="5.5" stroke-linecap="butt"/>
<line x1="248.88" y1="1152.4" x2="263.88" y2="1152.4" stroke="#A0FFA0" stroke-width="5.5" stroke-linecap="butt"/>
<line x1="337.06" y1="1113.5" x2="337.06" y2="1121.5" stroke="#A0FFA0" stroke-width="6.8" stroke-linecap="butt"/>
<line x1="329.56" y1="1113.5" x2="344.56" y2="1113.5" stroke="#A0FFA0" stroke-width="5.5" stroke-linecap="butt"/>
<line x1="329.56" y1="1121.5" x2="344.56" y2="1121.5" stroke="#A0FFA0" stroke-width="5.5" stroke-linecap="butt"/>
<line x1="417.74" y1="1112.5" x2="417.74" y2="1122.5" stroke="#A0FFA0" stroke-width="6.8" stroke-linecap="butt"/>
<line x1="410.24" y1="1112.5" x2="425.24" y2="1112.5" stroke="#A0FFA0" stroke-width="5.5" stroke-linecap="butt"/>
<line x1="410.24" y1="1122.5" x2="425.24" y2="1122.5" stroke="#A0FFA0" stroke-width="5.5" stroke-linecap="butt"/>
<line x1="498.42" y1="1073" x2="498.42" y2="1087" stroke="#A0FFA0" stroke-width="6.8" stroke-linecap="butt"/>
<line x1="490.92" y1="1073" x2="505.92" y2="1073" stroke="#A0FFA0" stroke-width="5.5" stroke-linecap="butt"/>
<line x1="490.92" y1="1087" x2="505.92" y2="1087" stroke="#A0FFA0" stroke-width="5.5" stroke-linecap="butt"/>
<line x1="579.1" y1="1062.5" x2="579.1" y2="1082.5" stroke="#A0FFA0" stroke-width="6.8" stroke-linecap="butt"/>
<line x1="571.6" y1="1062.5" x2="586.6" y2="1062.5" stroke="#A0FFA0" stroke-width="5.5" stroke-linecap="butt"/>
<line x1="571.6" y1="1082.5" x2="586.6" y2="1082.5" stroke="#A0FFA0" stroke-width="5.5" stroke-linecap="butt"/>
<line x1="659.78" y1="1052" x2="659.78" y2="1072" stroke="#A0FFA0" stroke-width="6.8" stroke-linecap="butt"/>
<line x1="652.28" y1="1052" x2="667.28" y2="1052" stroke="#A0FFA0" stroke-width="5.5" stroke-linecap="butt"/>
<line x1="652.28" y1="1072" x2="667.28" y2="1072" stroke="#A0FFA0" stroke-width="5.5" stroke-linecap="butt"/>
<line x1="740.46" y1="1041" x2="740.46" y2="1061" stroke="#A0FFA0" stroke-width="6.8" stroke-linecap="butt"/>
<line x1="732.96" y1="1041" x2="747.96" y2="1041" stroke="#A0FFA0" stroke-width="5.5" stroke-linecap="butt"/>
<line x1="732.96" y1="1061" x2="747.96" y2="1061" stroke="#A0FFA0" stroke-width="5.5" stroke-linecap="butt"/>
<line x1="821.14" y1="1023.8" x2="821.14" y2="1043.8" stroke="#A0FFA0" stroke-width="6.8" stroke-linecap="butt"/>
<line x1="813.64" y1="1023.8" x2="828.64" y2="1023.8" stroke="#A0FFA0" stroke-width="5.5" stroke-linecap="butt"/>
<line x1="813.64" y1="1043.8" x2="828.64" y2="1043.8" stroke="#A0FFA0" stroke-width="5.5" stroke-linecap="butt"/>
<line x1="901.82" y1="1016.7" x2="901.82" y2="1036.7" stroke="#A0FFA0" stroke-width="6.8" stroke-linecap="butt"/>
<line x1="894.32" y1="1016.7" x2="909.32" y2="1016.7" stroke="#A0FFA0" stroke-width="5.5" stroke-linecap="butt"/>
<line x1="894.32" y1="1036.7" x2="909.32" y2="1036.7" stroke="#A0FFA0" stroke-width="5.5" stroke-linecap="butt"/>
<line x1="982.5" y1="1001.4" x2="982.5" y2="1021.4" stroke="#A0FFA0" stroke-width="6.8" stroke-linecap="butt"/>
<line x1="975" y1="1001.4" x2="990" y2="1001.4" stroke="#A0FFA0" stroke-width="5.5" stroke-linecap="butt"/>
<line x1="975" y1="1021.4" x2="990" y2="1021.4" stroke="#A0FFA0" stroke-width="5.5" stroke-linecap="butt"/>
<line x1="1063.18" y1="995.6" x2="1063.18" y2="1019.6" stroke="#A0FFA0" stroke-width="6.8" stroke-linecap="butt"/>
<line x1="1055.68" y1="995.6" x2="1070.68" y2="995.6" stroke="#A0FFA0" stroke-width="5.5" stroke-linecap="butt"/>
<line x1="1055.68" y1="1019.6" x2="1070.68" y2="1019.6" stroke="#A0FFA0" stroke-width="5.5" stroke-linecap="butt"/>
<polyline points="175.7,1170.2 256.38,1149.4 337.06,1117.5 417.74,1117.5 498.42,1080 579.1,1072.5 659.78,1062 740.46,1051 821.14,1033.8 901.82,1026.7 982.5,1011.4 1063.18,1007.6" fill="none" stroke="#A0FFA0" stroke-width="5" stroke-linejoin="round"/>
<circle cx="175.7" cy="1170.2" r="7.25" fill="#A0FFA0"/>
<circle cx="256.38" cy="1149.4" r="7.25" fill="#A0FFA0"/>
<circle cx="337.06" cy="1117.5" r="7.25" fill="#A0FFA0"/>
<circle cx="417.74" cy="1117.5" r="7.25" fill="#A0FFA0"/>
<circle cx="498.42" cy="1080" r="7.25" fill="#A0FFA0"/>
<circle cx="579.1" cy="1072.5" r="7.25" fill="#A0FFA0"/>
<circle cx="659.78" cy="1062" r="7.25" fill="#A0FFA0"/>
<circle cx="740.46" cy="1051" r="7.25" fill="#A0FFA0"/>
<circle cx="821.14" cy="1033.8" r="7.25" fill="#A0FFA0"/>
<circle cx="901.82" cy="1026.7" r="7.25" fill="#A0FFA0"/>
<circle cx="982.5" cy="1011.4" r="7.25" fill="#A0FFA0"/>
<circle cx="1063.18" cy="1007.6" r="7.25" fill="#A0FFA0"/>
<line x1="256.38" y1="1128.4" x2="256.38" y2="1136.4" stroke="#FFC080" stroke-width="6.8" stroke-linecap="butt"/>
<line x1="248.88" y1="1128.4" x2="263.88" y2="1128.4" stroke="#FFC080" stroke-width="5.5" stroke-linecap="butt"/>
<line x1="248.88" y1="1136.4" x2="263.88" y2="1136.4" stroke="#FFC080" stroke-width="5.5" stroke-linecap="butt"/>
<line x1="337.06" y1="1108.5" x2="337.06" y2="1126.5" stroke="#FFC080" stroke-width="6.8" stroke-linecap="butt"/>
<line x1="329.56" y1="1108.5" x2="344.56" y2="1108.5" stroke="#FFC080" stroke-width="5.5" stroke-linecap="butt"/>
<line x1="329.56" y1="1126.5" x2="344.56" y2="1126.5" stroke="#FFC080" stroke-width="5.5" stroke-linecap="butt"/>
<line x1="417.74" y1="1088" x2="417.74" y2="1110" stroke="#FFC080" stroke-width="6.8" stroke-linecap="butt"/>
<line x1="410.24" y1="1088" x2="425.24" y2="1088" stroke="#FFC080" stroke-width="5.5" stroke-linecap="butt"/>
<line x1="410.24" y1="1110" x2="425.24" y2="1110" stroke="#FFC080" stroke-width="5.5" stroke-linecap="butt"/>
<line x1="498.42" y1="1071" x2="498.42" y2="1099" stroke="#FFC080" stroke-width="6.8" stroke-linecap="butt"/>
<line x1="490.92" y1="1071" x2="505.92" y2="1071" stroke="#FFC080" stroke-width="5.5" stroke-linecap="butt"/>
<line x1="490.92" y1="1099" x2="505.92" y2="1099" stroke="#FFC080" stroke-width="5.5" stroke-linecap="butt"/>
<line x1="579.1" y1="1068.5" x2="579.1" y2="1096.5" stroke="#FFC080" stroke-width="6.8" stroke-linecap="butt"/>
<line x1="571.6" y1="1068.5" x2="586.6" y2="1068.5" stroke="#FFC080" stroke-width="5.5" stroke-linecap="butt"/>
<line x1="571.6" y1="1096.5" x2="586.6" y2="1096.5" stroke="#FFC080" stroke-width="5.5" stroke-linecap="butt"/>
<line x1="659.78" y1="1047.5" x2="659.78" y2="1081.5" stroke="#FFC080" stroke-width="6.8" stroke-linecap="butt"/>
<line x1="652.28" y1="1047.5" x2="667.28" y2="1047.5" stroke="#FFC080" stroke-width="5.5" stroke-linecap="butt"/>
<line x1="652.28" y1="1081.5" x2="667.28" y2="1081.5" stroke="#FFC080" stroke-width="5.5" stroke-linecap="butt"/>
<line x1="740.46" y1="1037.9" x2="740.46" y2="1067.9" stroke="#FFC080" stroke-width="6.8" stroke-linecap="butt"/>
<line x1="732.96" y1="1037.9" x2="747.96" y2="1037.9" stroke="#FFC080" stroke-width="5.5" stroke-linecap="butt"/>
<line x1="732.96" y1="1067.9" x2="747.96" y2="1067.9" stroke="#FFC080" stroke-width="5.5" stroke-linecap="butt"/>
<line x1="821.14" y1="1024.7" x2="821.14" y2="1047.7" stroke="#FFC080" stroke-width="6.8" stroke-linecap="butt"/>
<line x1="813.64" y1="1024.7" x2="828.64" y2="1024.7" stroke="#FFC080" stroke-width="5.5" stroke-linecap="butt"/>
<line x1="813.64" y1="1047.7" x2="828.64" y2="1047.7" stroke="#FFC080" stroke-width="5.5" stroke-linecap="butt"/>
<line x1="901.82" y1="1023.2" x2="901.82" y2="1049.2" stroke="#FFC080" stroke-width="6.8" stroke-linecap="butt"/>
<line x1="894.32" y1="1023.2" x2="909.32" y2="1023.2" stroke="#FFC080" stroke-width="5.5" stroke-linecap="butt"/>
<line x1="894.32" y1="1049.2" x2="909.32" y2="1049.2" stroke="#FFC080" stroke-width="5.5" stroke-linecap="butt"/>
<line x1="982.5" y1="1009.4" x2="982.5" y2="1034.4" stroke="#FFC080" stroke-width="6.8" stroke-linecap="butt"/>
<line x1="975" y1="1009.4" x2="990" y2="1009.4" stroke="#FFC080" stroke-width="5.5" stroke-linecap="butt"/>
<line x1="975" y1="1034.4" x2="990" y2="1034.4" stroke="#FFC080" stroke-width="5.5" stroke-linecap="butt"/>
<line x1="1063.18" y1="1002" x2="1063.18" y2="1040" stroke="#FFC080" stroke-width="6.8" stroke-linecap="butt"/>
<line x1="1055.68" y1="1002" x2="1070.68" y2="1002" stroke="#FFC080" stroke-width="5.5" stroke-linecap="butt"/>
<line x1="1055.68" y1="1040" x2="1070.68" y2="1040" stroke="#FFC080" stroke-width="5.5" stroke-linecap="butt"/>
<polyline points="175.7,1143 256.38,1132.4 337.06,1117.5 417.74,1099 498.42,1085 579.1,1082.5 659.78,1064.5 740.46,1052.9 821.14,1036.2 901.82,1036.2 982.5,1021.9 1063.18,1021" fill="none" stroke="#FFC080" stroke-width="5" stroke-linejoin="round"/>
<polygon points="175.7,1134.73 182.95,1148.51 168.45,1148.51" fill="#FFC080"/>
<polygon points="256.38,1124.13 263.63,1137.91 249.13,1137.91" fill="#FFC080"/>
<polygon points="337.06,1109.23 344.31,1123.01 329.81,1123.01" fill="#FFC080"/>
<polygon points="417.74,1090.73 424.99,1104.51 410.49,1104.51" fill="#FFC080"/>
<polygon points="498.42,1076.73 505.67,1090.51 491.17,1090.51" fill="#FFC080"/>
<polygon points="579.1,1074.23 586.35,1088.01 571.85,1088.01" fill="#FFC080"/>
<polygon points="659.78,1056.23 667.03,1070.01 652.53,1070.01" fill="#FFC080"/>
<polygon points="740.46,1044.63 747.71,1058.41 733.21,1058.41" fill="#FFC080"/>
<polygon points="821.14,1027.93 828.39,1041.71 813.89,1041.71" fill="#FFC080"/>
<polygon points="901.82,1027.93 909.07,1041.71 894.57,1041.71" fill="#FFC080"/>
<polygon points="982.5,1013.63 989.75,1027.41 975.25,1027.41" fill="#FFC080"/>
<polygon points="1063.18,1012.74 1070.43,1026.51 1055.93,1026.51" fill="#FFC080"/>
<line x1="256.38" y1="1093" x2="256.38" y2="1101" stroke="#006400" stroke-width="6.8" stroke-linecap="butt"/>
<line x1="248.88" y1="1093" x2="263.88" y2="1093" stroke="#006400" stroke-width="5.5" stroke-linecap="butt"/>
<line x1="248.88" y1="1101" x2="263.88" y2="1101" stroke="#006400" stroke-width="5.5" stroke-linecap="butt"/>
<line x1="337.06" y1="1059.5" x2="337.06" y2="1067.5" stroke="#006400" stroke-width="6.8" stroke-linecap="butt"/>
<line x1="329.56" y1="1059.5" x2="344.56" y2="1059.5" stroke="#006400" stroke-width="5.5" stroke-linecap="butt"/>
<line x1="329.56" y1="1067.5" x2="344.56" y2="1067.5" stroke="#006400" stroke-width="5.5" stroke-linecap="butt"/>
<line x1="417.74" y1="1022.5" x2="417.74" y2="1032.5" stroke="#006400" stroke-width="6.8" stroke-linecap="butt"/>
<line x1="410.24" y1="1022.5" x2="425.24" y2="1022.5" stroke="#006400" stroke-width="5.5" stroke-linecap="butt"/>
<line x1="410.24" y1="1032.5" x2="425.24" y2="1032.5" stroke="#006400" stroke-width="5.5" stroke-linecap="butt"/>
<line x1="498.42" y1="987" x2="498.42" y2="1001" stroke="#006400" stroke-width="6.8" stroke-linecap="butt"/>
<line x1="490.92" y1="987" x2="505.92" y2="987" stroke="#006400" stroke-width="5.5" stroke-linecap="butt"/>
<line x1="490.92" y1="1001" x2="505.92" y2="1001" stroke="#006400" stroke-width="5.5" stroke-linecap="butt"/>
<line x1="579.1" y1="944.8" x2="579.1" y2="970.2" stroke="#006400" stroke-width="6.8" stroke-linecap="butt"/>
<line x1="571.6" y1="944.8" x2="586.6" y2="944.8" stroke="#006400" stroke-width="5.5" stroke-linecap="butt"/>
<line x1="571.6" y1="970.2" x2="586.6" y2="970.2" stroke="#006400" stroke-width="5.5" stroke-linecap="butt"/>
<line x1="659.78" y1="909" x2="659.78" y2="937" stroke="#006400" stroke-width="6.8" stroke-linecap="butt"/>
<line x1="652.28" y1="909" x2="667.28" y2="909" stroke="#006400" stroke-width="5.5" stroke-linecap="butt"/>
<line x1="652.28" y1="937" x2="667.28" y2="937" stroke="#006400" stroke-width="5.5" stroke-linecap="butt"/>
<line x1="740.46" y1="868.6" x2="740.46" y2="906.6" stroke="#006400" stroke-width="6.8" stroke-linecap="butt"/>
<line x1="732.96" y1="868.6" x2="747.96" y2="868.6" stroke="#006400" stroke-width="5.5" stroke-linecap="butt"/>
<line x1="732.96" y1="906.6" x2="747.96" y2="906.6" stroke="#006400" stroke-width="5.5" stroke-linecap="butt"/>
<line x1="821.14" y1="841.5" x2="821.14" y2="876.5" stroke="#006400" stroke-width="6.8" stroke-linecap="butt"/>
<line x1="813.64" y1="841.5" x2="828.64" y2="841.5" stroke="#006400" stroke-width="5.5" stroke-linecap="butt"/>
<line x1="813.64" y1="876.5" x2="828.64" y2="876.5" stroke="#006400" stroke-width="5.5" stroke-linecap="butt"/>
<line x1="901.82" y1="833.5" x2="901.82" y2="865.5" stroke="#006400" stroke-width="6.8" stroke-linecap="butt"/>
<line x1="894.32" y1="833.5" x2="909.32" y2="833.5" stroke="#006400" stroke-width="5.5" stroke-linecap="butt"/>
<line x1="894.32" y1="865.5" x2="909.32" y2="865.5" stroke="#006400" stroke-width="5.5" stroke-linecap="butt"/>
<line x1="982.5" y1="811.5" x2="982.5" y2="842.5" stroke="#006400" stroke-width="6.8" stroke-linecap="butt"/>
<line x1="975" y1="811.5" x2="990" y2="811.5" stroke="#006400" stroke-width="5.5" stroke-linecap="butt"/>
<line x1="975" y1="842.5" x2="990" y2="842.5" stroke="#006400" stroke-width="5.5" stroke-linecap="butt"/>
<line x1="1063.18" y1="797.8" x2="1063.18" y2="831.8" stroke="#006400" stroke-width="6.8" stroke-linecap="butt"/>
<line x1="1055.68" y1="797.8" x2="1070.68" y2="797.8" stroke="#006400" stroke-width="5.5" stroke-linecap="butt"/>
<line x1="1055.68" y1="831.8" x2="1070.68" y2="831.8" stroke="#006400" stroke-width="5.5" stroke-linecap="butt"/>
<polyline points="175.7,1158 256.38,1097 337.06,1063.5 417.74,1027.5 498.42,994 579.1,957.5 659.78,923 740.46,887.6 821.14,859 901.82,849.5 982.5,827 1063.18,814.8" fill="none" stroke="#006400" stroke-width="5" stroke-linejoin="round"/>
<rect x="168.45" y="1150.75" width="14.5" height="14.5" fill="#006400"/>
<rect x="249.13" y="1089.75" width="14.5" height="14.5" fill="#006400"/>
<rect x="329.81" y="1056.25" width="14.5" height="14.5" fill="#006400"/>
<rect x="410.49" y="1020.25" width="14.5" height="14.5" fill="#006400"/>
<rect x="491.17" y="986.75" width="14.5" height="14.5" fill="#006400"/>
<rect x="571.85" y="950.25" width="14.5" height="14.5" fill="#006400"/>
<rect x="652.53" y="915.75" width="14.5" height="14.5" fill="#006400"/>
<rect x="733.21" y="880.35" width="14.5" height="14.5" fill="#006400"/>
<rect x="813.89" y="851.75" width="14.5" height="14.5" fill="#006400"/>
<rect x="894.57" y="842.25" width="14.5" height="14.5" fill="#006400"/>
<rect x="975.25" y="819.75" width="14.5" height="14.5" fill="#006400"/>
<rect x="1055.93" y="807.55" width="14.5" height="14.5" fill="#006400"/>
<line x1="256.38" y1="1102.4" x2="256.38" y2="1119.6" stroke="#FFA040" stroke-width="6.8" stroke-linecap="butt"/>
<line x1="248.88" y1="1102.4" x2="263.88" y2="1102.4" stroke="#FFA040" stroke-width="5.5" stroke-linecap="butt"/>
<line x1="248.88" y1="1119.6" x2="263.88" y2="1119.6" stroke="#FFA040" stroke-width="5.5" stroke-linecap="butt"/>
<line x1="337.06" y1="1076.5" x2="337.06" y2="1086.5" stroke="#FFA040" stroke-width="6.8" stroke-linecap="butt"/>
<line x1="329.56" y1="1076.5" x2="344.56" y2="1076.5" stroke="#FFA040" stroke-width="5.5" stroke-linecap="butt"/>
<line x1="329.56" y1="1086.5" x2="344.56" y2="1086.5" stroke="#FFA040" stroke-width="5.5" stroke-linecap="butt"/>
<line x1="417.74" y1="1039.5" x2="417.74" y2="1053.5" stroke="#FFA040" stroke-width="6.8" stroke-linecap="butt"/>
<line x1="410.24" y1="1039.5" x2="425.24" y2="1039.5" stroke="#FFA040" stroke-width="5.5" stroke-linecap="butt"/>
<line x1="410.24" y1="1053.5" x2="425.24" y2="1053.5" stroke="#FFA040" stroke-width="5.5" stroke-linecap="butt"/>
<line x1="498.42" y1="999.5" x2="498.42" y2="1023.5" stroke="#FFA040" stroke-width="6.8" stroke-linecap="butt"/>
<line x1="490.92" y1="999.5" x2="505.92" y2="999.5" stroke="#FFA040" stroke-width="5.5" stroke-linecap="butt"/>
<line x1="490.92" y1="1023.5" x2="505.92" y2="1023.5" stroke="#FFA040" stroke-width="5.5" stroke-linecap="butt"/>
<line x1="579.1" y1="973.3" x2="579.1" y2="998.7" stroke="#FFA040" stroke-width="6.8" stroke-linecap="butt"/>
<line x1="571.6" y1="973.3" x2="586.6" y2="973.3" stroke="#FFA040" stroke-width="5.5" stroke-linecap="butt"/>
<line x1="571.6" y1="998.7" x2="586.6" y2="998.7" stroke="#FFA040" stroke-width="5.5" stroke-linecap="butt"/>
<line x1="659.78" y1="938.4" x2="659.78" y2="967.4" stroke="#FFA040" stroke-width="6.8" stroke-linecap="butt"/>
<line x1="652.28" y1="938.4" x2="667.28" y2="938.4" stroke="#FFA040" stroke-width="5.5" stroke-linecap="butt"/>
<line x1="652.28" y1="967.4" x2="667.28" y2="967.4" stroke="#FFA040" stroke-width="5.5" stroke-linecap="butt"/>
<line x1="740.46" y1="912.7" x2="740.46" y2="940.7" stroke="#FFA040" stroke-width="6.8" stroke-linecap="butt"/>
<line x1="732.96" y1="912.7" x2="747.96" y2="912.7" stroke="#FFA040" stroke-width="5.5" stroke-linecap="butt"/>
<line x1="732.96" y1="940.7" x2="747.96" y2="940.7" stroke="#FFA040" stroke-width="5.5" stroke-linecap="butt"/>
<line x1="821.14" y1="883.5" x2="821.14" y2="915.5" stroke="#FFA040" stroke-width="6.8" stroke-linecap="butt"/>
<line x1="813.64" y1="883.5" x2="828.64" y2="883.5" stroke="#FFA040" stroke-width="5.5" stroke-linecap="butt"/>
<line x1="813.64" y1="915.5" x2="828.64" y2="915.5" stroke="#FFA040" stroke-width="5.5" stroke-linecap="butt"/>
<line x1="901.82" y1="862" x2="901.82" y2="896" stroke="#FFA040" stroke-width="6.8" stroke-linecap="butt"/>
<line x1="894.32" y1="862" x2="909.32" y2="862" stroke="#FFA040" stroke-width="5.5" stroke-linecap="butt"/>
<line x1="894.32" y1="896" x2="909.32" y2="896" stroke="#FFA040" stroke-width="5.5" stroke-linecap="butt"/>
<line x1="982.5" y1="844.9" x2="982.5" y2="880.9" stroke="#FFA040" stroke-width="6.8" stroke-linecap="butt"/>
<line x1="975" y1="844.9" x2="990" y2="844.9" stroke="#FFA040" stroke-width="5.5" stroke-linecap="butt"/>
<line x1="975" y1="880.9" x2="990" y2="880.9" stroke="#FFA040" stroke-width="5.5" stroke-linecap="butt"/>
<line x1="1063.18" y1="828.8" x2="1063.18" y2="860.8" stroke="#FFA040" stroke-width="6.8" stroke-linecap="butt"/>
<line x1="1055.68" y1="828.8" x2="1070.68" y2="828.8" stroke="#FFA040" stroke-width="5.5" stroke-linecap="butt"/>
<line x1="1055.68" y1="860.8" x2="1070.68" y2="860.8" stroke="#FFA040" stroke-width="5.5" stroke-linecap="butt"/>
<polyline points="175.7,1141.6 256.38,1111 337.06,1081.5 417.74,1046.5 498.42,1011.5 579.1,986 659.78,952.9 740.46,926.7 821.14,899.5 901.82,879 982.5,862.9 1063.18,844.8" fill="none" stroke="#FFA040" stroke-width="5" stroke-linejoin="round"/>
<polygon points="175.7,1149.87 182.95,1136.09 168.45,1136.09" fill="#FFA040"/>
<polygon points="256.38,1119.27 263.63,1105.49 249.13,1105.49" fill="#FFA040"/>
<polygon points="337.06,1089.77 344.31,1075.99 329.81,1075.99" fill="#FFA040"/>
<polygon points="417.74,1054.77 424.99,1040.99 410.49,1040.99" fill="#FFA040"/>
<polygon points="498.42,1019.76 505.67,1005.99 491.17,1005.99" fill="#FFA040"/>
<polygon points="579.1,994.26 586.35,980.49 571.85,980.49" fill="#FFA040"/>
<polygon points="659.78,961.16 667.03,947.39 652.53,947.39" fill="#FFA040"/>
<polygon points="740.46,934.97 747.71,921.19 733.21,921.19" fill="#FFA040"/>
<polygon points="821.14,907.76 828.39,893.99 813.89,893.99" fill="#FFA040"/>
<polygon points="901.82,887.26 909.07,873.49 894.57,873.49" fill="#FFA040"/>
<polygon points="982.5,871.16 989.75,857.39 975.25,857.39" fill="#FFA040"/>
<polygon points="1063.18,853.06 1070.43,839.29 1055.93,839.29" fill="#FFA040"/>
<line x1="135.5" y1="648" x2="135.5" y2="1209.5" stroke="#000" stroke-width="5" stroke-linecap="butt"/>
<line x1="126.5" y1="1207.3" x2="144.5" y2="1207.3" stroke="#000" stroke-width="5" stroke-linecap="butt"/>
<line x1="126.5" y1="1234.5" x2="144.5" y2="1234.5" stroke="#000" stroke-width="5" stroke-linecap="butt"/>
<line x1="135.5" y1="1232" x2="135.5" y2="1298" stroke="#000" stroke-width="5" stroke-linecap="butt"/>
<line x1="125.5" y1="1295.7" x2="1105.8" y2="1295.7" stroke="#000" stroke-width="5" stroke-linecap="butt"/>
<line x1="122.5" y1="651.34" x2="135.5" y2="651.34" stroke="#000" stroke-width="5" stroke-linecap="butt"/>
<g transform="translate(77.2,664.99) scale(0.9750,1)" fill="#000"><text x="0" y="0" font-size="40.60" font-weight="bold">5</text><text x="22.58" y="0" font-size="40.60" font-weight="bold">0</text></g>
<line x1="122.5" y1="824.58" x2="135.5" y2="824.58" stroke="#000" stroke-width="5" stroke-linecap="butt"/>
<g transform="translate(77.2,838.23) scale(0.9750,1)" fill="#000"><text x="0" y="0" font-size="40.60" font-weight="bold">4</text><text x="22.58" y="0" font-size="40.60" font-weight="bold">0</text></g>
<line x1="122.5" y1="997.82" x2="135.5" y2="997.82" stroke="#000" stroke-width="5" stroke-linecap="butt"/>
<g transform="translate(77.2,1011.47) scale(0.9750,1)" fill="#000"><text x="0" y="0" font-size="40.60" font-weight="bold">3</text><text x="22.58" y="0" font-size="40.60" font-weight="bold">0</text></g>
<line x1="122.5" y1="1171.06" x2="135.5" y2="1171.06" stroke="#000" stroke-width="5" stroke-linecap="butt"/>
<g transform="translate(77.2,1184.71) scale(0.9750,1)" fill="#000"><text x="0" y="0" font-size="40.60" font-weight="bold">2</text><text x="22.58" y="0" font-size="40.60" font-weight="bold">0</text></g>
<line x1="129.5" y1="737.96" x2="135.5" y2="737.96" stroke="#000" stroke-width="5" stroke-linecap="butt"/>
<line x1="129.5" y1="911.2" x2="135.5" y2="911.2" stroke="#000" stroke-width="5" stroke-linecap="butt"/>
<line x1="129.5" y1="1084.44" x2="135.5" y2="1084.44" stroke="#000" stroke-width="5" stroke-linecap="butt"/>
<g transform="translate(99.21,1309) scale(0.9750,1)" fill="#000"><text x="0" y="0" font-size="40.60" font-weight="bold">0</text></g>
<line x1="175.7" y1="1295.7" x2="175.7" y2="1306" stroke="#000" stroke-width="5" stroke-linecap="butt"/>
<g transform="translate(164.89,1346.7) scale(0.9500,1)" fill="#000"><text x="0" y="0" font-size="41.00" font-weight="bold">0</text></g>
<line x1="256.38" y1="1295.7" x2="256.38" y2="1306" stroke="#000" stroke-width="5" stroke-linecap="butt"/>
<g transform="translate(247.83,1346.7) scale(0.9500,1)" fill="#000"><path transform="translate(0,0) scale(0.020020,-0.020020)" d="M478,0L478,1170L140,959L140,1180L493,1409L759,1409L759,0Z"/></g>
<line x1="337.06" y1="1295.7" x2="337.06" y2="1306" stroke="#000" stroke-width="5" stroke-linecap="butt"/>
<g transform="translate(326.35,1346.7) scale(0.9500,1)" fill="#000"><text x="0" y="0" font-size="41.00" font-weight="bold">2</text></g>
<line x1="417.74" y1="1295.7" x2="417.74" y2="1306" stroke="#000" stroke-width="5" stroke-linecap="butt"/>
<g transform="translate(407.17,1346.7) scale(0.9500,1)" fill="#000"><text x="0" y="0" font-size="41.00" font-weight="bold">3</text></g>
<line x1="498.42" y1="1295.7" x2="498.42" y2="1306" stroke="#000" stroke-width="5" stroke-linecap="butt"/>
<g transform="translate(487.42,1346.7) scale(0.9500,1)" fill="#000"><text x="0" y="0" font-size="41.00" font-weight="bold">4</text></g>
<line x1="579.1" y1="1295.7" x2="579.1" y2="1306" stroke="#000" stroke-width="5" stroke-linecap="butt"/>
<g transform="translate(568.24,1346.7) scale(0.9500,1)" fill="#000"><text x="0" y="0" font-size="41.00" font-weight="bold">5</text></g>
<line x1="659.78" y1="1295.7" x2="659.78" y2="1306" stroke="#000" stroke-width="5" stroke-linecap="butt"/>
<g transform="translate(648.92,1346.7) scale(0.9500,1)" fill="#000"><text x="0" y="0" font-size="41.00" font-weight="bold">6</text></g>
<line x1="740.46" y1="1295.7" x2="740.46" y2="1306" stroke="#000" stroke-width="5" stroke-linecap="butt"/>
<g transform="translate(729.65,1346.7) scale(0.9500,1)" fill="#000"><text x="0" y="0" font-size="41.00" font-weight="bold">7</text></g>
<line x1="821.14" y1="1295.7" x2="821.14" y2="1306" stroke="#000" stroke-width="5" stroke-linecap="butt"/>
<g transform="translate(810.28,1346.7) scale(0.9500,1)" fill="#000"><text x="0" y="0" font-size="41.00" font-weight="bold">8</text></g>
<line x1="901.82" y1="1295.7" x2="901.82" y2="1306" stroke="#000" stroke-width="5" stroke-linecap="butt"/>
<g transform="translate(891.01,1346.7) scale(0.9500,1)" fill="#000"><text x="0" y="0" font-size="41.00" font-weight="bold">9</text></g>
<line x1="982.5" y1="1295.7" x2="982.5" y2="1306" stroke="#000" stroke-width="5" stroke-linecap="butt"/>
<g transform="translate(960.31,1346.7) scale(0.9500,1)" fill="#000"><path transform="translate(0,0) scale(0.020020,-0.020020)" d="M478,0L478,1170L140,959L140,1180L493,1409L759,1409L759,0Z"/><text x="22.8" y="0" font-size="41.00" font-weight="bold">0</text></g>
<line x1="1063.18" y1="1295.7" x2="1063.18" y2="1306" stroke="#000" stroke-width="5" stroke-linecap="butt"/>
<g transform="translate(1043.8,1346.7) scale(0.9500,1)" fill="#000"><path transform="translate(0,0) scale(0.020020,-0.020020)" d="M478,0L478,1170L140,959L140,1180L493,1409L759,1409L759,0Z"/><path transform="translate(22.8,0) scale(0.020020,-0.020020)" d="M478,0L478,1170L140,959L140,1180L493,1409L759,1409L759,0Z"/></g>
<text transform="translate(339.9,1411.35) scale(1.0093,1)" font-size="37.87" font-weight="bold" fill="#000">Weeks of experimental feeding</text>
<text transform="translate(39.01,1058) rotate(-90) scale(0.9693,1)" font-size="39.47" font-weight="bold" fill="#000">Weight [g]</text>
<line x1="170.4" y1="1260.4" x2="208.4" y2="1260.4" stroke="#FFC080" stroke-width="5" stroke-linecap="butt"/>
<polygon points="189.4,1252.42 196.4,1265.72 182.4,1265.72" fill="#FFC080"/>
<text transform="translate(229.67,1270.1) scale(0.9988,1)" font-size="29.54" font-weight="normal" fill="#000">SCD</text>
<line x1="307.5" y1="1260.4" x2="345.5" y2="1260.4" stroke="#FFA040" stroke-width="5" stroke-linecap="butt"/>
<polygon points="326.5,1268.38 333.5,1255.08 319.5,1255.08" fill="#FFA040"/>
<text transform="translate(365.99,1270.1) scale(1.0191,1)" font-size="29.54" font-weight="normal" fill="#000">CAF</text>
<line x1="446.5" y1="1260.4" x2="484.5" y2="1260.4" stroke="#A0FFA0" stroke-width="5" stroke-linecap="butt"/>
<circle cx="465.5" cy="1260.4" r="7" fill="#A0FFA0"/>
<text transform="translate(504.9,1270.4) scale(0.9569,1)" font-size="30.40" font-weight="normal" fill="#000">NFD</text>
<line x1="577.5" y1="1260.4" x2="615.5" y2="1260.4" stroke="#006400" stroke-width="5" stroke-linecap="butt"/>
<rect x="589.5" y="1253.4" width="14" height="14" fill="#006400"/>
<text transform="translate(636.4,1270.4) scale(0.9569,1)" font-size="30.40" font-weight="normal" fill="#000">HFD</text>
<line x1="1091.4" y1="793.8" x2="1091.4" y2="1024.8" stroke="#000" stroke-width="4.5" stroke-linecap="butt"/>
<line x1="1076" y1="793.8" x2="1106.7" y2="793.8" stroke="#000" stroke-width="4.5" stroke-linecap="butt"/>
<line x1="1076" y1="837.6" x2="1106.7" y2="837.6" stroke="#000" stroke-width="4.5" stroke-linecap="butt"/>
<line x1="1076" y1="994.8" x2="1106.7" y2="994.8" stroke="#000" stroke-width="4.5" stroke-linecap="butt"/>
<line x1="1076" y1="1024.8" x2="1106.7" y2="1024.8" stroke="#000" stroke-width="4.5" stroke-linecap="butt"/>
<line x1="1172.4" y1="793.8" x2="1172.4" y2="994.8" stroke="#000" stroke-width="4.5" stroke-linecap="butt"/>
<line x1="1157" y1="793.8" x2="1188" y2="793.8" stroke="#000" stroke-width="4.5" stroke-linecap="butt"/>
<line x1="1157" y1="837.6" x2="1188" y2="837.6" stroke="#000" stroke-width="4.5" stroke-linecap="butt"/>
<line x1="1157" y1="994.8" x2="1188" y2="994.8" stroke="#000" stroke-width="4.5" stroke-linecap="butt"/>
<line x1="1255.7" y1="793.8" x2="1255.7" y2="994.8" stroke="#000" stroke-width="4.5" stroke-linecap="butt"/>
<line x1="1240" y1="793.8" x2="1271.4" y2="793.8" stroke="#000" stroke-width="4.5" stroke-linecap="butt"/>
<line x1="1240" y1="994.8" x2="1271.4" y2="994.8" stroke="#000" stroke-width="4.5" stroke-linecap="butt"/>
<text transform="translate(1112.27,816.56) scale(0.8302,1)" font-size="43.43" font-weight="normal" fill="#000">*</text>
<text transform="translate(1112.27,860.36) scale(0.8302,1)" font-size="43.43" font-weight="normal" fill="#000">*</text>
<text transform="translate(1108.2,1004.63) scale(0.9312,1)" font-size="36.53" font-weight="normal" fill="#000">ns</text>
<text transform="translate(1143.38,1007.71) scale(1.0599,1)" font-size="22.86" font-weight="normal" fill="#000">*</text>
<text transform="translate(1188.14,802.91) scale(0.8944,1)" font-size="39.09" font-weight="normal" fill="#000">ns</text>
<text transform="translate(1224.68,809) scale(1.1630,1)" font-size="20.73" font-weight="normal" fill="#000">#</text>
<text transform="translate(1195.05,1005.2) scale(1.0956,1)" font-size="27.01" font-weight="normal" fill="#000">#</text>
<text transform="translate(1274.88,802.8) scale(1.0025,1)" font-size="26.33" font-weight="normal" fill="#000">+</text>
<path transform="translate(-0.527,1564.700) scale(0.025144,-0.025239)" d="M1397 745Q1397 384 1191.5 192.0Q986 0 598 0H184V1462H643Q1001 1462 1199.0 1273.0Q1397 1084 1397 745ZM1075 737Q1075 1208 659 1208H494V256H627Q1075 256 1075 737Z" fill="#000"/>
<line x1="215.7" y1="1932" x2="215.7" y2="1920.5" stroke="#000" stroke-width="5.8" stroke-linecap="butt"/>
<line x1="189.2" y1="1920.5" x2="242.2" y2="1920.5" stroke="#000" stroke-width="6.4" stroke-linecap="butt"/>
<line x1="374.2" y1="1817.2" x2="374.2" y2="1803.8" stroke="#000" stroke-width="5.8" stroke-linecap="butt"/>
<line x1="347.7" y1="1803.8" x2="400.7" y2="1803.8" stroke="#000" stroke-width="6.4" stroke-linecap="butt"/>
<line x1="531.8" y1="1924.3" x2="531.8" y2="1915" stroke="#000" stroke-width="5.8" stroke-linecap="butt"/>
<line x1="505.3" y1="1915" x2="558.3" y2="1915" stroke="#000" stroke-width="6.4" stroke-linecap="butt"/>
<line x1="689.85" y1="1798.1" x2="689.85" y2="1782.5" stroke="#000" stroke-width="5.8" stroke-linecap="butt"/>
<line x1="663.35" y1="1782.5" x2="716.35" y2="1782.5" stroke="#000" stroke-width="6.4" stroke-linecap="butt"/>
<rect x="162.9" y="1930" width="105.6" height="148.2" fill="#FFC080"/>
<path d="M165.95,2078.2 V1933.05 H265.45 V2078.2" fill="none" stroke="#000" stroke-width="6.1" stroke-linejoin="miter"/>
<rect x="321.4" y="1815.2" width="105.6" height="263" fill="#FF8000"/>
<path d="M324.45,2078.2 V1818.25 H423.95 V2078.2" fill="none" stroke="#000" stroke-width="6.1" stroke-linejoin="miter"/>
<rect x="479" y="1922.3" width="105.6" height="155.9" fill="#A0FFA0"/>
<path d="M482.05,2078.2 V1925.35 H581.55 V2078.2" fill="none" stroke="#000" stroke-width="6.1" stroke-linejoin="miter"/>
<rect x="637.1" y="1796.1" width="105.5" height="282.1" fill="#005500"/>
<path d="M640.15,2078.2 V1799.15 H739.55 V2078.2" fill="none" stroke="#000" stroke-width="6.1" stroke-linejoin="miter"/>
<rect x="150" y="2007.5" width="620" height="31.3" fill="#fff"/>
<line x1="136.9" y1="1654" x2="136.9" y2="2009.3" stroke="#000" stroke-width="4" stroke-linecap="butt"/>
<line x1="126.7" y1="2007.5" x2="147.1" y2="2007.5" stroke="#000" stroke-width="3.6" stroke-linecap="butt"/>
<line x1="126.7" y1="2038.8" x2="147.1" y2="2038.8" stroke="#000" stroke-width="3.6" stroke-linecap="butt"/>
<line x1="136.9" y1="2037" x2="136.9" y2="2080" stroke="#000" stroke-width="4" stroke-linecap="butt"/>
<line x1="124.8" y1="2078.2" x2="770" y2="2078.2" stroke="#000" stroke-width="3.6" stroke-linecap="butt"/>
<line x1="125.3" y1="1656" x2="136.9" y2="1656" stroke="#000" stroke-width="3.6" stroke-linecap="butt"/>
<line x1="125.3" y1="1714.55" x2="136.9" y2="1714.55" stroke="#000" stroke-width="3.6" stroke-linecap="butt"/>
<line x1="125.3" y1="1773.1" x2="136.9" y2="1773.1" stroke="#000" stroke-width="3.6" stroke-linecap="butt"/>
<line x1="125.3" y1="1831.65" x2="136.9" y2="1831.65" stroke="#000" stroke-width="3.6" stroke-linecap="butt"/>
<line x1="125.3" y1="1890.2" x2="136.9" y2="1890.2" stroke="#000" stroke-width="3.6" stroke-linecap="butt"/>
<line x1="125.3" y1="1948.75" x2="136.9" y2="1948.75" stroke="#000" stroke-width="3.6" stroke-linecap="butt"/>
<g transform="translate(82.22,1668.4) scale(1.0000,1)" fill="#000"><text x="0" y="0" font-size="34.80" font-weight="bold">5</text><text x="19.35" y="0" font-size="34.80" font-weight="bold">0</text></g>
<g transform="translate(81.79,1726.95) scale(1.0000,1)" fill="#000"><text x="0" y="0" font-size="34.80" font-weight="bold">4</text><text x="19.35" y="0" font-size="34.80" font-weight="bold">5</text></g>
<g transform="translate(82.22,1785.5) scale(1.0000,1)" fill="#000"><text x="0" y="0" font-size="34.80" font-weight="bold">4</text><text x="19.35" y="0" font-size="34.80" font-weight="bold">0</text></g>
<g transform="translate(81.79,1844.05) scale(1.0000,1)" fill="#000"><text x="0" y="0" font-size="34.80" font-weight="bold">3</text><text x="19.35" y="0" font-size="34.80" font-weight="bold">5</text></g>
<g transform="translate(82.22,1902.6) scale(1.0000,1)" fill="#000"><text x="0" y="0" font-size="34.80" font-weight="bold">3</text><text x="19.35" y="0" font-size="34.80" font-weight="bold">0</text></g>
<g transform="translate(81.79,1961.15) scale(1.0000,1)" fill="#000"><text x="0" y="0" font-size="34.80" font-weight="bold">2</text><text x="19.35" y="0" font-size="34.80" font-weight="bold">5</text></g>
<g transform="translate(82.22,2019.7) scale(1.0000,1)" fill="#000"><text x="0" y="0" font-size="34.80" font-weight="bold">2</text><text x="19.35" y="0" font-size="34.80" font-weight="bold">0</text></g>
<g transform="translate(101.58,2090.3) scale(1.0000,1)" fill="#000"><text x="0" y="0" font-size="34.80" font-weight="bold">0</text></g>
<line x1="215.6" y1="2078.2" x2="215.6" y2="2089.1" stroke="#000" stroke-width="3.6" stroke-linecap="butt"/>
<line x1="374.1" y1="2078.2" x2="374.1" y2="2089.1" stroke="#000" stroke-width="3.6" stroke-linecap="butt"/>
<line x1="531.8" y1="2078.2" x2="531.8" y2="2089.1" stroke="#000" stroke-width="3.6" stroke-linecap="butt"/>
<line x1="690.1" y1="2078.2" x2="690.1" y2="2089.1" stroke="#000" stroke-width="3.6" stroke-linecap="butt"/>
<text transform="translate(192.17,2126.24) scale(0.9615,1)" font-size="35.76" font-weight="bold" fill="#000">SD</text>
<text transform="translate(337.8,2126.24) scale(0.9788,1)" font-size="35.76" font-weight="bold" fill="#000">CAF</text>
<text transform="translate(494.7,2126.3) scale(0.9903,1)" font-size="35.93" font-weight="bold" fill="#000">NFD</text>
<text transform="translate(652.49,2126.3) scale(0.9917,1)" font-size="35.93" font-weight="bold" fill="#000">HFD</text>
<text transform="translate(62.21,1953.39) rotate(-90) scale(1.0284,1)" font-size="34.77" font-weight="bold" fill="#000">Weight [g]</text>
<line x1="211" y1="1587.5" x2="683" y2="1587.5" stroke="#000" stroke-width="6" stroke-linecap="butt"/>
<line x1="211" y1="1569" x2="211" y2="1606.5" stroke="#000" stroke-width="6" stroke-linecap="butt"/>
<line x1="365.3" y1="1571.7" x2="365.3" y2="1602.4" stroke="#000" stroke-width="6" stroke-linecap="butt"/>
<line x1="521.4" y1="1571.7" x2="521.4" y2="1602.4" stroke="#000" stroke-width="6" stroke-linecap="butt"/>
<line x1="683" y1="1569" x2="683" y2="1606.5" stroke="#000" stroke-width="6" stroke-linecap="butt"/>
<line x1="365.3" y1="1669.7" x2="683" y2="1669.7" stroke="#000" stroke-width="6" stroke-linecap="butt"/>
<line x1="365.3" y1="1651.4" x2="365.3" y2="1688.2" stroke="#000" stroke-width="6" stroke-linecap="butt"/>
<line x1="521.4" y1="1653" x2="521.4" y2="1686" stroke="#000" stroke-width="6" stroke-linecap="butt"/>
<line x1="683" y1="1651.4" x2="683" y2="1688.2" stroke="#000" stroke-width="6" stroke-linecap="butt"/>
<line x1="521.4" y1="1741" x2="683" y2="1741" stroke="#000" stroke-width="6" stroke-linecap="butt"/>
<line x1="521.4" y1="1723" x2="521.4" y2="1760" stroke="#000" stroke-width="6" stroke-linecap="butt"/>
<line x1="683" y1="1723" x2="683" y2="1760" stroke="#000" stroke-width="6" stroke-linecap="butt"/>
<text transform="translate(339.57,1576.44) scale(1.1358,1)" font-size="36.57" font-weight="normal" fill="#000">*</text>
<text transform="translate(358.3,1576.44) scale(1.1358,1)" font-size="36.57" font-weight="normal" fill="#000">*</text>
<text transform="translate(377.03,1576.44) scale(1.1358,1)" font-size="36.57" font-weight="normal" fill="#000">*</text>
<text transform="translate(656.68,1576.44) scale(1.1249,1)" font-size="36.57" font-weight="normal" fill="#000">*</text>
<text transform="translate(675.23,1576.44) scale(1.1249,1)" font-size="36.57" font-weight="normal" fill="#000">*</text>
<text transform="translate(693.78,1576.44) scale(1.1249,1)" font-size="36.57" font-weight="normal" fill="#000">*</text>
<text transform="translate(499.18,1568.58) scale(0.9247,1)" font-size="42.01" font-weight="normal" fill="#000">ns</text>
<text transform="translate(540.96,1570.71) scale(1.3433,1)" font-size="22.86" font-weight="normal" fill="#000">*</text>
<text transform="translate(493.83,1648) scale(0.9577,1)" font-size="35.04" font-weight="normal" fill="#000">###</text>
<text transform="translate(661.31,1647.56) scale(0.9101,1)" font-size="43.84" font-weight="normal" fill="#000">ns</text>
<text transform="translate(702.84,1657.8) scale(1.0827,1)" font-size="30.36" font-weight="normal" fill="#000">#</text>
<text transform="translate(653.99,1721.91) scale(1.0191,1)" font-size="35.51" font-weight="normal" fill="#000">+++</text>
</svg>
</body></html>
